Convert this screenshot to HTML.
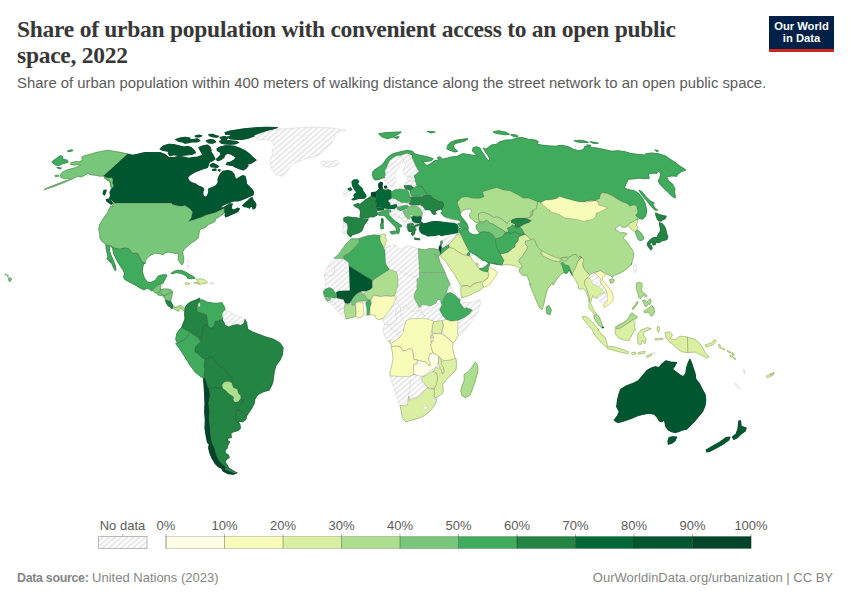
<!DOCTYPE html>
<html><head><meta charset="utf-8">
<style>
html,body{margin:0;padding:0;background:#fff;}
body{width:850px;height:600px;position:relative;overflow:hidden;font-family:"Liberation Sans",sans-serif;}
.abs{position:absolute;white-space:nowrap;}
#title{left:17px;top:16.2px;font-family:"Liberation Serif",serif;font-weight:bold;font-size:23.5px;line-height:26px;color:#373737;letter-spacing:-0.26px;}
#sub{left:17px;top:74px;font-size:14.87px;line-height:18px;color:#5b5b5b;}
#logo{left:769px;top:16px;width:65px;height:33px;background:#002147;border-bottom:3px solid #ce261e;color:#fff;font-weight:bold;font-size:11.2px;line-height:12px;text-align:center;}
#logo div{position:absolute;left:0;width:65px;text-align:center;}
.lg{font-size:13px;color:#5b5b5b;top:518px;line-height:15px;transform:translateX(-50%);}
#src{left:17px;top:570px;font-size:13px;color:#858585;line-height:15px;}
#url{right:17px;top:570px;font-size:13px;color:#858585;line-height:15px;}
#map{position:absolute;left:0;top:0;}
</style></head><body>
<div id="title" class="abs">Share of urban population with convenient access to an open public<br>space, 2022</div>
<div id="sub" class="abs">Share of urban population within 400 meters of walking distance along the street network to an open public space.</div>
<div id="logo" class="abs"><div style="top:4px">Our World</div><div style="top:16px">in Data</div></div>
<svg id="map" width="850" height="600" viewBox="0 0 850 600">
<defs><pattern id="h" width="4" height="4" patternUnits="userSpaceOnUse" patternTransform="rotate(49)"><rect width="4" height="4" fill="#fff"/><line x1="1" y1="0" x2="1" y2="4" stroke="#e5e5e5" stroke-width="1.7"/></pattern></defs>
<g>
<g stroke-width="1.1" stroke-linejoin="round">
<path d="M51.9 161.9L56.2 158.8L60.6 155.6L62.5 156.9L63.1 159.4L66.9 160.0L68.1 161.9L65.0 163.1L61.9 163.8L58.8 165.6L55.6 165.0L53.1 163.1Z" fill="#41ab5d" stroke="#41ab5d"/>
<path d="M56.9 167.5L61.2 168.1L60.0 169.0Z" fill="#41ab5d" stroke="#41ab5d"/>
<path d="M67.5 151.0L71.9 149.8L72.8 150.6L68.8 151.6Z" fill="#41ab5d" stroke="#41ab5d"/>
<path d="M55.0 175.6L58.1 175.0L58.8 176.2L55.6 176.6Z" fill="#78c679" stroke="#78c679"/>
<path d="M127.5 154.0L103.8 175.6L105.0 178.1L107.5 180.0L110.0 181.2L110.6 183.8L111.2 186.9L113.1 187.5L111.2 189.4L110.0 192.5L110.6 195.6L109.4 198.8L111.9 200.0L113.8 201.9L115.0 203.1L113.8 203.1L171.2 203.1L172.5 204.4L176.2 205.6L181.2 206.2L185.0 205.6L188.1 207.5L190.6 209.4L192.5 211.9L191.9 215.0L191.2 218.1L188.5 221.5L191.2 220.6L195.0 219.4L198.8 218.1L201.0 217.5L206.2 215.0L211.2 213.8L216.2 212.2L220.6 210.0L223.8 208.5L224.4 208.8L224.0 212.5L226.2 213.1L225.0 215.0L225.6 216.9L228.1 216.0L231.2 214.4L235.0 213.1L238.1 211.2L239.4 208.8L237.5 208.1L234.4 210.0L231.9 209.4L231.2 206.2L232.5 204.0L230.0 203.8L226.9 205.6L223.8 207.5L221.2 208.1L218.1 208.8L220.0 207.5L222.5 205.6L225.6 204.0L228.8 202.8L231.9 201.5L235.0 200.6L238.1 201.0L241.2 200.0L244.4 198.8L247.5 197.2L250.0 196.2L253.1 195.0L253.5 191.9L251.9 189.4L249.4 186.9L246.5 183.8L246.0 180.0L245.0 176.2L242.5 175.6L239.4 177.5L236.2 179.4L235.0 177.5L233.8 173.8L231.2 171.2L227.5 170.6L223.1 171.2L221.2 173.1L219.4 175.6L218.1 178.8L218.1 182.5L216.2 185.6L212.5 187.5L208.8 188.8L208.8 191.9L207.5 195.6L205.0 197.5L203.1 195.6L202.8 191.9L203.8 189.4L202.5 187.5L198.8 186.2L195.0 183.8L191.2 182.5L188.8 180.6L187.5 177.5L190.6 174.4L195.0 171.9L201.2 169.4L207.5 167.5L209.4 162.0L212.5 160.8L215.0 158.9L213.8 156.4L211.9 153.2L210.0 151.4L207.5 152.6L204.4 153.9L201.2 155.8L197.5 157.0L193.1 157.6L188.8 158.2L183.8 157.0L178.8 156.4L173.8 157.6L168.8 157.6L165.0 154.5L160.0 152.6L146.0 152.5L142.5 153.1L137.5 154.4L132.5 155.2Z" fill="#00562f" stroke="#00562f"/>
<path d="M127.5 154.0L121.2 152.5L115.0 151.5L108.1 150.2L102.5 151.2L96.2 152.5L90.0 154.4L83.8 156.0L81.9 157.5L82.5 160.6L80.0 161.2L76.2 161.5L71.2 162.8L70.6 164.4L74.4 165.0L78.8 164.4L80.6 165.0L77.5 166.9L72.5 168.5L66.9 170.0L62.5 172.2L60.2 175.0L61.2 177.5L65.0 178.8L68.1 178.1L70.0 179.0L66.9 181.2L62.5 183.1L57.5 185.0L52.5 186.9L47.5 188.5L44.4 189.8L46.2 188.5L52.5 186.0L58.8 183.5L65.0 181.0L70.6 179.8L73.8 178.1L77.5 176.2L81.2 176.9L85.0 175.0L88.1 173.1L90.0 174.4L93.1 175.0L96.2 175.2L100.0 176.2L103.8 175.6L106.2 177.5L109.4 178.1L111.9 177.5L113.1 180.0L112.5 183.1L113.8 185.6L113.1 187.5L111.2 186.9L110.6 183.8L110.0 181.2L107.5 180.0L105.0 178.1L103.8 175.6Z" fill="#78c679" stroke="#78c679"/>
<path d="M106.2 199.8L108.1 199.0L110.6 200.6L112.5 203.1L111.2 204.4L108.8 202.5L106.9 201.2Z" fill="#00562f" stroke="#00562f"/>
<path d="M103.8 190.6L106.2 190.0L105.6 192.5L104.4 195.0L103.1 193.8Z" fill="#00562f" stroke="#00562f"/>
<path d="M242.5 205.6L245.0 203.1L248.1 200.6L250.6 198.1L252.5 197.8L253.1 200.6L255.0 202.5L256.0 205.0L255.0 208.1L253.1 209.0L252.5 206.9L250.6 206.2L249.4 208.1L246.9 206.9L244.4 206.6Z" fill="#00562f" stroke="#00562f"/>
<path d="M160.0 148.9L163.8 145.8L168.8 144.2L173.8 144.5L178.8 145.8L183.8 147.0L188.1 146.4L191.2 147.6L193.8 150.1L195.6 152.6L192.5 154.2L188.8 154.8L183.8 155.1L178.8 155.5L173.8 154.8L170.0 155.8L168.1 153.2L169.4 151.4L165.0 150.8L161.9 150.1Z" fill="#00562f" stroke="#00562f"/>
<path d="M198.8 147.6L203.1 145.8L207.5 145.1L210.0 147.0L211.2 150.1L210.6 152.6L208.1 153.9L205.0 155.1L202.5 154.5L201.2 152.0L200.0 149.8Z" fill="#00562f" stroke="#00562f"/>
<path d="M216.9 148.9L220.0 147.0L225.0 145.8L230.0 145.8L235.0 146.4L240.0 148.2L245.0 150.8L249.4 153.9L253.1 157.6L256.2 160.1L253.1 162.0L250.0 163.9L247.5 162.6L248.1 165.8L246.2 168.2L243.1 170.1L240.0 168.9L236.2 167.6L233.1 165.8L230.0 165.1L226.2 164.5L227.5 162.6L230.6 162.0L233.8 160.1L236.2 157.6L233.8 155.8L230.6 153.9L227.5 153.2L225.0 154.8L223.8 157.6L221.2 159.5L218.1 160.8L216.2 159.5L218.8 157.0L221.2 154.5L220.0 152.0L217.5 150.8Z" fill="#00562f" stroke="#00562f"/>
<path d="M175.6 139.5L180.0 138.0L185.0 137.2L190.0 138.0L189.4 139.5L192.5 139.5L197.5 138.9L200.0 140.8L196.9 142.0L192.5 141.8L188.8 142.6L185.0 143.2L182.5 142.0L178.8 141.4Z" fill="#00562f" stroke="#00562f"/>
<path d="M195.0 136.0L198.8 135.1L201.9 135.8L199.4 137.0L196.2 137.0Z" fill="#00562f" stroke="#00562f"/>
<path d="M206.2 140.8L210.0 139.5L213.8 140.1L215.6 142.0L212.5 143.2L208.8 143.0Z" fill="#00562f" stroke="#00562f"/>
<path d="M208.8 134.5L212.5 134.2L215.6 135.5L218.8 136.4L216.2 137.2L212.5 136.8L209.4 135.8Z" fill="#00562f" stroke="#00562f"/>
<path d="M219.4 141.4L223.8 140.1L230.0 140.8L236.2 141.4L238.8 142.6L235.0 143.9L230.0 144.2L225.0 143.9L221.2 143.2Z" fill="#00562f" stroke="#00562f"/>
<path d="M225.0 132.6L230.0 131.0L236.2 130.1L243.8 128.9L252.5 128.0L266.0 127.2L277.5 127.6L272.5 129.2L266.0 130.8L260.0 133.9L255.0 135.8L250.0 137.6L245.0 138.9L240.0 139.5L235.0 139.2L230.0 138.9L227.5 137.0L231.9 135.8L229.4 134.5L225.6 134.2Z" fill="#00562f" stroke="#00562f"/>
<path d="M220.0 137.6L223.8 136.4L228.1 137.6L226.2 139.5L221.9 139.5Z" fill="#00562f" stroke="#00562f"/>
<path d="M210.0 165.1L213.1 163.2L215.6 164.5L218.8 166.4L216.9 167.6L213.8 167.0L211.2 167.0Z" fill="#00562f" stroke="#00562f"/>
<path d="M212.5 169.5L215.6 168.9L216.2 170.1L213.1 170.8Z" fill="#00562f" stroke="#00562f"/>
<path d="M218.1 170.1L220.0 169.5L219.8 171.4Z" fill="#00562f" stroke="#00562f"/>
<path d="M113.8 203.1L112.5 205.0L113.1 206.9L110.6 206.2L108.8 210.0L106.9 213.8L103.8 218.1L101.2 221.9L99.4 225.6L98.8 229.4L99.8 233.8L100.0 238.1L101.9 241.2L104.4 243.1L106.0 245.0L111.2 245.6L115.0 248.1L120.0 249.0L125.0 247.8L128.8 248.5L131.2 251.9L133.1 253.8L135.6 252.8L138.1 253.8L139.4 256.9L141.2 260.0L143.1 262.5L145.0 263.5L145.6 260.0L148.1 256.9L151.9 254.4L155.6 253.1L160.0 253.8L163.1 254.8L165.0 252.8L168.8 251.9L172.5 252.5L175.0 253.8L177.5 252.5L178.5 255.0L178.1 258.8L180.0 262.5L181.9 265.0L183.1 263.1L183.8 259.4L183.1 255.6L182.5 251.9L184.4 248.8L187.5 246.2L191.2 243.1L195.0 240.6L198.1 238.1L198.8 234.4L199.4 230.6L201.0 228.8L205.6 227.5L208.1 224.4L211.9 223.1L215.0 221.2L215.6 218.8L218.8 216.9L222.5 214.4L224.4 212.5L224.0 212.5L224.4 208.8L223.8 208.5L220.6 210.0L216.2 212.2L211.2 213.8L206.2 215.0L201.0 217.5L198.8 218.1L195.0 219.4L191.2 220.6L188.5 221.5L191.2 218.1L191.9 215.0L192.5 211.9L190.6 209.4L188.1 207.5L185.0 205.6L181.2 206.2L176.2 205.6L172.5 204.4L171.2 203.1Z" fill="#78c679" stroke="#78c679"/>
<path d="M106.0 245.0L108.8 245.6L109.8 247.5L109.4 250.6L110.6 254.4L112.5 258.8L114.4 263.1L115.6 266.9L114.4 265.0L116.0 269.4L115.2 270.6L113.5 267.5L111.9 263.8L110.6 259.4L110.6 262.5L108.1 259.4L106.9 258.8L108.1 256.9L106.9 251.9L106.2 248.1Z" fill="#41ab5d" stroke="#41ab5d"/>
<path d="M110.6 246.2L115.0 248.4L120.0 249.2L125.0 248.0L128.8 248.8L131.2 252.1L133.1 254.0L135.6 253.0L138.1 254.0L139.4 257.1L141.2 260.2L143.1 262.8L145.0 263.8L143.8 262.5L143.1 265.6L142.2 269.4L142.8 273.8L144.4 278.1L146.9 281.9L150.0 282.8L153.8 281.2L156.2 279.4L158.1 276.2L162.5 274.8L166.9 275.0L165.6 278.1L163.8 281.2L162.5 283.8L160.6 284.4L158.1 284.8L156.5 285.6L155.0 287.5L153.1 289.4L151.9 291.0L150.0 289.4L147.5 288.1L143.8 289.8L139.4 287.5L134.4 284.4L129.4 281.9L125.0 279.4L123.5 276.9L124.8 273.8L123.1 270.0L120.6 266.2L118.1 262.5L115.6 257.5L113.8 253.8L112.5 247.5Z" fill="#41ab5d" stroke="#41ab5d"/>
<path d="M153.1 289.8L155.0 287.8L156.5 285.9L158.1 285.0L160.6 284.8L160.6 287.5L160.0 289.4L161.2 290.0L159.4 291.9L156.9 293.1L154.4 292.5Z" fill="#78c679" stroke="#78c679"/>
<path d="M156.9 293.5L159.4 292.2L161.9 293.8L162.5 295.2L160.0 295.6L158.1 294.8Z" fill="#78c679" stroke="#78c679"/>
<path d="M160.0 289.8L163.8 289.0L168.1 289.0L171.2 290.0L172.5 291.9L170.0 292.5L167.5 293.8L165.0 295.6L163.1 295.6L161.9 293.8L159.6 292.1L161.2 290.2Z" fill="#78c679" stroke="#78c679"/>
<path d="M163.1 296.0L165.2 295.9L167.8 294.0L170.2 292.8L172.5 292.1L171.9 295.6L171.2 298.8L170.6 301.2L168.1 300.6L165.6 300.0L164.8 298.1Z" fill="#78c679" stroke="#78c679"/>
<path d="M165.6 300.2L168.1 301.0L170.6 301.5L171.9 303.8L173.1 306.2L171.9 308.8L170.0 306.9L168.1 305.6L166.9 303.8L166.0 301.9Z" fill="#238443" stroke="#238443"/>
<path d="M173.1 306.5L175.6 307.5L178.1 306.2L180.6 305.6L183.1 306.9L184.8 308.8L184.4 311.0L182.5 310.0L181.2 308.1L179.4 308.8L178.5 311.2L176.2 310.0L174.0 308.8Z" fill="#addd8e" stroke="#addd8e"/>
<path d="M171.2 273.5L173.8 271.5L177.5 270.2L181.9 270.6L185.6 272.2L189.4 274.4L192.5 276.2L195.0 278.1L191.2 278.8L187.5 278.1L186.9 276.2L183.8 274.4L180.0 273.1L175.6 272.5L173.1 273.8Z" fill="#41ab5d" stroke="#41ab5d"/>
<path d="M185.0 283.1L187.5 282.5L189.8 283.5L188.1 284.8L185.6 284.4Z" fill="#d9f0a3" stroke="#d9f0a3"/>
<path d="M193.8 282.5L196.9 282.2L199.4 283.8L197.5 280.6L196.2 279.4L200.0 278.8L203.8 279.4L206.2 281.2L207.5 282.8L205.0 283.5L202.5 283.1L200.6 284.8L198.1 283.8L195.6 283.5Z" fill="#d9f0a3" stroke="#d9f0a3"/>
<path d="M190.0 310.0L203.3 315.0L215.0 328.3L245.0 328.3L273.3 343.3L271.7 373.3L245.0 413.3L235.0 418.3L221.7 455.0L215.0 446.7L208.7 390.0L205.0 360.0L198.3 340.0Z" fill="#238443" stroke="#238443"/>
<path d="M185.0 308.0L187.5 304.2L190.8 302.0L195.8 300.0L199.7 298.3L200.0 300.8L197.5 303.3L196.3 306.7L197.5 311.7L202.5 313.3L206.7 315.0L207.5 320.8L206.7 325.0L203.0 327.0L202.5 331.7L202.0 336.7L198.3 337.5L194.2 335.0L190.0 331.7L185.8 330.0L181.7 327.5L183.3 323.3L185.0 319.2L184.7 313.3Z" fill="#238443" stroke="#238443"/>
<path d="M199.7 300.8L202.0 299.7L206.7 302.0L212.5 303.0L218.3 303.3L221.7 302.5L224.2 306.7L225.0 310.0L222.5 313.3L224.2 316.7L221.7 319.2L218.3 320.8L215.0 321.3L214.7 325.8L210.8 328.3L208.0 325.8L207.5 320.8L206.7 315.0L202.5 313.3L197.5 311.7L196.7 306.7L198.3 304.2Z" fill="#41ab5d" stroke="#41ab5d"/>
<path d="M203.0 327.0L206.7 325.3L210.8 328.7L214.7 326.2L215.0 321.7L218.7 321.2L222.0 319.5L225.3 325.3L228.7 327.0L232.8 325.3L237.0 324.5L241.2 325.3L243.7 323.7L245.0 319.5L246.7 323.3L247.5 329.2L251.7 331.7L258.3 334.2L265.0 336.7L273.3 339.2L280.0 343.3L283.0 347.5L282.5 354.2L280.0 360.0L275.8 365.8L274.2 371.7L273.3 378.3L271.7 385.0L273.3 380.0L271.7 385.0L269.2 390.0L263.3 391.7L258.3 394.2L255.0 398.3L254.2 403.3L251.7 408.3L248.3 413.3L246.7 415.8L241.7 411.7L236.7 409.7L240.0 405.0L243.3 400.8L240.8 398.3L240.8 395.8L238.3 393.3L237.5 389.2L233.3 387.5L231.7 382.5L231.7 383.3L231.7 377.5L227.5 373.3L224.2 368.3L220.0 365.8L215.0 361.7L212.5 356.7L209.2 357.5L205.0 359.2L201.7 357.5L198.3 354.2L195.0 351.7L194.7 347.5L197.5 344.2L200.8 341.7L202.0 337.0L202.5 331.7Z" fill="#238443" stroke="#238443"/>
<path d="M181.7 327.8L185.8 330.3L190.0 332.0L188.3 335.8L185.0 339.2L180.8 341.7L177.5 343.3L175.8 339.2L176.7 334.2L179.2 330.0Z" fill="#41ab5d" stroke="#41ab5d"/>
<path d="M175.8 343.7L180.8 342.0L185.0 339.5L188.3 336.2L190.0 332.3L194.2 335.3L198.3 337.8L200.8 341.7L197.5 344.5L194.7 347.8L195.0 352.0L198.3 354.5L201.7 357.8L205.0 359.5L204.2 365.0L205.0 370.0L203.7 375.0L204.2 378.3L200.8 376.7L195.0 371.7L190.0 365.0L185.8 358.3L181.7 351.7L178.3 346.7Z" fill="#41ab5d" stroke="#41ab5d"/>
<path d="M205.0 359.5L209.2 357.8L212.5 357.0L215.0 362.0L220.0 366.2L224.2 368.7L227.5 373.7L231.7 377.8L231.7 383.3L228.3 382.5L224.2 381.7L221.7 386.7L222.5 388.3L218.3 388.3L213.3 387.5L208.7 388.3L205.8 385.0L205.0 379.2L204.2 375.0L205.0 370.0L204.2 365.0Z" fill="#238443" stroke="#238443"/>
<path d="M222.0 385.0L224.2 382.0L228.3 381.3L231.7 382.5L233.3 387.5L237.5 389.2L238.3 393.3L240.8 395.8L240.8 398.7L238.3 401.7L235.0 402.5L233.0 400.0L233.3 396.7L229.2 394.2L225.8 390.8L222.5 388.3Z" fill="#addd8e" stroke="#addd8e"/>
<path d="M208.7 388.3L213.3 387.5L218.3 388.3L222.5 388.7L225.8 391.2L229.2 394.5L233.3 397.0L233.0 400.3L235.0 402.8L238.3 402.0L240.8 399.0L243.3 401.2L240.0 405.3L236.7 410.0L235.3 414.5L235.8 419.5L238.3 421.7L240.0 425.0L240.3 428.3L237.5 430.8L233.3 431.7L230.8 433.3L231.3 437.5L227.5 438.3L226.3 440.0L229.7 441.7L227.5 445.8L227.0 448.3L225.0 450.0L225.3 453.3L228.3 455.0L229.2 457.5L226.7 459.2L225.0 461.7L227.5 465.8L228.3 467.5L225.0 466.7L221.7 464.2L218.3 460.0L215.8 455.0L214.2 448.3L211.7 443.3L210.3 436.7L209.7 428.3L208.7 420.0L209.2 411.7L208.0 403.3L209.7 395.8Z" fill="#238443" stroke="#238443"/>
<path d="M225.3 467.0L228.3 467.8L231.7 470.0L235.0 471.7L232.5 472.5L229.2 471.3L226.3 470.0Z" fill="#238443" stroke="#238443"/>
<path d="M236.7 409.7L241.7 411.7L246.7 415.8L245.8 419.2L242.5 421.7L238.3 421.3L235.8 419.2L235.3 414.2Z" fill="#238443" stroke="#238443"/>
<path d="M203.7 378.3L205.8 380.8L207.5 386.7L205.8 385.0L208.7 388.3L209.7 395.8L208.0 403.3L209.2 411.7L208.7 420.0L209.7 428.3L210.3 436.7L211.7 443.3L214.2 448.3L215.8 455.0L218.3 460.0L221.7 464.2L225.0 466.7L224.7 470.0L221.7 468.3L218.3 466.7L215.0 463.3L212.0 458.3L210.0 453.3L208.7 448.3L209.2 444.2L207.5 442.5L206.3 436.7L205.0 428.3L205.3 420.0L204.7 411.7L205.0 403.3L204.7 395.0L204.2 387.5L203.7 380.0Z" fill="#004529" stroke="#004529"/>
<path d="M221.7 468.3L225.0 470.0L229.2 472.0L233.3 473.3L237.0 472.7L233.3 474.3L228.3 473.7L223.3 471.3Z" fill="#004529" stroke="#004529"/>
<path d="M413.1 153.8L414.4 153.8L418.8 155.0L425.0 156.2L430.0 157.5L433.1 158.8L431.2 160.6L427.5 161.2L423.8 161.9L421.2 160.6L423.8 163.1L426.9 165.6L429.4 164.4L432.5 162.5L435.0 160.6L438.8 160.0L437.5 157.5L440.0 156.9L442.5 159.4L447.5 158.1L452.5 156.9L457.5 156.2L462.5 153.8L467.5 154.4L471.0 155.0L471.7 155.0L475.8 155.8L478.3 156.7L475.0 153.3L472.5 150.8L473.3 147.5L476.7 146.7L480.0 148.3L481.7 151.7L484.2 155.0L486.7 159.2L488.3 160.8L490.0 159.2L488.3 155.8L485.8 152.5L483.3 148.3L485.8 149.2L488.3 147.5L491.7 145.0L496.7 144.2L500.0 141.7L505.0 140.3L511.7 139.7L516.7 138.0L521.7 137.5L528.3 139.2L535.0 140.0L538.3 141.7L536.7 144.2L541.7 145.0L548.3 145.8L555.0 146.3L561.7 145.3L568.3 146.7L573.3 149.2L578.3 150.8L583.3 149.7L585.0 146.3L591.7 147.5L598.3 148.3L605.0 149.7L611.7 151.3L618.3 150.8L625.0 151.7L630.0 153.3L636.7 154.2L641.7 154.7L646.7 155.0L645.8 153.7L651.7 153.0L658.3 153.7L665.0 155.8L670.0 159.2L675.0 162.5L679.2 165.8L685.8 170.0L680.8 171.7L677.5 174.2L676.7 176.3L671.7 175.8L666.7 177.0L668.3 180.8L672.5 184.2L675.0 189.2L674.2 191.7L675.3 195.8L675.0 198.0L671.7 195.8L667.5 191.7L663.3 187.5L660.0 184.2L658.3 180.8L660.0 177.5L660.8 173.3L658.3 170.8L656.7 173.3L652.5 173.0L648.3 174.2L649.2 178.3L645.0 178.7L640.0 178.0L635.0 178.7L628.3 179.2L625.8 184.2L624.2 188.3L629.2 189.7L634.2 190.8L638.3 193.3L642.5 198.3L645.0 203.3L646.7 210.0L645.8 215.8L642.5 219.2L639.2 218.3L635.8 215.8L638.0 211.7L636.7 206.7L635.0 205.0L631.7 206.7L627.5 204.2L623.3 201.7L618.3 199.2L613.3 195.8L608.3 193.3L601.7 192.5L600.0 195.0L600.8 199.2L598.3 201.7L591.7 200.0L585.0 200.8L585.0 202.5L578.3 202.0L571.7 200.3L565.0 198.7L559.2 196.7L557.5 198.7L551.7 200.0L545.8 200.3L540.8 202.8L537.5 202.0L533.3 200.3L528.3 198.3L523.3 198.7L518.3 195.3L513.3 192.8L510.0 191.2L503.3 190.3L496.7 187.8L488.3 190.3L482.5 192.0L484.2 197.0L480.0 198.7L473.3 198.7L466.7 197.0L461.7 197.8L457.5 202.0L459.4 208.1L460.6 213.1L460.0 214.0L460.6 215.6L461.9 217.5L464.4 220.6L466.9 224.0L465.0 223.4L462.5 221.5L460.6 222.8L459.4 220.9L455.0 220.0L451.2 219.2L447.5 217.8L443.8 215.9L441.0 213.0L442.8 211.2L441.2 209.6L442.5 208.1L443.8 205.0L442.8 202.2L439.4 201.2L435.0 199.4L431.9 197.5L430.0 195.0L426.9 195.6L426.2 193.8L425.0 190.6L421.2 185.6L421.9 186.9L418.8 185.6L416.2 184.4L415.0 181.0L415.0 178.1L414.4 175.6L416.2 173.8L418.8 171.2L417.5 169.4L415.6 166.2L413.8 161.9L411.9 158.1Z" fill="#41ab5d" stroke="#41ab5d"/>
<path d="M401.2 188.1L404.0 188.1L405.0 189.4L401.9 189.8Z" fill="#41ab5d" stroke="#41ab5d"/>
<path d="M446.9 148.8L448.1 145.0L451.2 141.9L456.2 140.2L462.5 139.4L467.5 139.0L465.0 140.6L460.0 141.9L455.6 143.1L453.1 145.6L454.4 148.8L457.5 151.2L454.4 151.9L450.6 150.6Z" fill="#41ab5d" stroke="#41ab5d"/>
<path d="M455.0 141.7L461.7 139.7L467.5 138.7L465.0 140.8L459.2 142.5L455.0 143.3Z" fill="#41ab5d" stroke="#41ab5d"/>
<path d="M493.3 131.7L498.3 130.8L505.0 132.0L509.2 134.2L505.0 134.7L498.3 133.7L495.0 133.0Z" fill="#41ab5d" stroke="#41ab5d"/>
<path d="M510.8 134.7L515.0 134.7L518.0 136.3L514.2 136.7Z" fill="#41ab5d" stroke="#41ab5d"/>
<path d="M574.2 140.8L580.0 140.3L585.8 141.3L588.3 142.5L583.3 142.5L577.5 142.0Z" fill="#41ab5d" stroke="#41ab5d"/>
<path d="M590.0 141.7L596.0 142.5L598.3 143.3L593.3 143.3Z" fill="#41ab5d" stroke="#41ab5d"/>
<path d="M586.7 145.0L590.8 145.3L590.0 146.7Z" fill="#41ab5d" stroke="#41ab5d"/>
<path d="M655.0 150.0L658.3 150.8L657.0 151.7Z" fill="#41ab5d" stroke="#41ab5d"/>
<path d="M639.2 190.3L641.7 191.7L645.8 196.7L650.0 200.8L654.2 203.3L652.5 204.2L655.0 208.3L657.5 210.3L655.0 210.0L651.7 206.7L648.3 202.5L644.2 197.5L640.8 193.3Z" fill="#41ab5d" stroke="#41ab5d"/>
<path d="M378.8 133.8L386.2 132.5L401.2 132.0L397.5 134.5L392.5 137.0L387.5 138.8L382.5 137.0Z" fill="#41ab5d" stroke="#41ab5d"/>
<path d="M393.8 137.5L398.8 136.5L397.5 138.5Z" fill="#41ab5d" stroke="#41ab5d"/>
<path d="M427.5 131.2L435.0 132.0L431.2 133.0Z" fill="#41ab5d" stroke="#41ab5d"/>
<path d="M372.5 172.5L374.4 170.0L377.5 168.1L381.2 165.6L383.8 163.1L386.2 159.4L389.4 156.2L393.1 153.8L397.5 152.5L402.5 151.2L407.5 150.6L412.5 151.2L414.4 153.8L413.1 153.8L410.6 155.0L407.5 153.5L403.8 154.4L400.6 155.6L396.2 156.2L393.1 158.1L390.0 160.6L388.1 164.4L386.9 167.5L385.0 170.6L385.6 173.8L385.0 177.5L381.9 178.1L378.8 179.4L375.0 180.0L373.1 177.5Z" fill="#41ab5d" stroke="#41ab5d"/>
<path d="M408.5 203.8L410.0 201.9L410.9 199.3L410.0 197.0L413.0 196.4L417.5 196.3L422.0 196.4L423.8 195.0L426.9 195.6L430.0 195.0L431.9 197.5L435.0 199.4L439.4 201.2L442.8 202.2L443.8 205.0L442.5 208.1L440.6 209.0L436.9 210.2L435.0 211.2L431.9 211.2L435.0 212.2L436.2 213.8L433.8 214.4L432.2 213.1L430.6 210.0L427.5 209.4L425.6 209.8L422.8 207.1L420.5 205.4L417.9 205.3L413.8 205.3L410.8 205.3Z" fill="#238443" stroke="#238443"/>
<path d="M378.8 183.8L380.6 182.2L382.5 183.1L381.9 186.2L382.5 188.8L380.0 189.0L378.8 186.9Z" fill="#004529" stroke="#004529"/>
<path d="M384.4 186.2L386.5 186.0L386.9 187.8L385.0 188.1Z" fill="#004529" stroke="#004529"/>
<path d="M353.8 205.0L358.1 203.5L360.0 204.4L363.1 201.9L366.2 199.4L368.8 198.1L371.2 199.4L373.8 201.2L376.2 203.1L378.1 205.0L377.5 207.5L376.2 209.4L376.9 211.9L378.1 213.8L376.2 215.6L373.1 216.9L370.0 216.5L368.1 218.1L365.0 217.5L361.9 218.1L360.0 216.9L360.6 212.5L360.0 209.4L357.5 207.5L355.0 206.5Z" fill="#238443" stroke="#238443"/>
<path d="M381.5 219.4L382.8 219.0L383.0 223.1L381.8 223.5Z" fill="#238443" stroke="#238443"/>
<path d="M343.8 218.1L347.5 216.9L352.5 217.5L357.5 218.1L361.9 218.8L365.6 219.0L368.1 219.8L366.2 221.9L364.4 224.4L363.1 227.5L361.9 230.6L359.4 232.5L355.6 233.8L351.9 235.0L350.6 236.9L348.1 234.4L346.9 231.2L347.5 227.5L346.9 223.8L344.0 221.2Z" fill="#238443" stroke="#238443"/>
<path d="M351.9 181.9L353.8 180.0L356.9 179.8L358.8 181.2L357.5 183.8L359.4 186.2L361.9 188.1L363.1 191.2L365.0 193.8L366.2 196.2L364.4 198.1L360.6 198.5L357.5 198.8L353.8 200.0L351.9 199.4L355.0 197.5L353.8 195.6L355.0 193.8L356.9 192.5L355.6 190.6L353.8 188.1L352.5 185.6L352.2 183.1Z" fill="#006837" stroke="#006837"/>
<path d="M348.1 188.8L350.6 187.8L351.9 189.8L349.4 190.6Z" fill="#006837" stroke="#006837"/>
<path d="M404.0 186.1L407.0 185.4L411.5 186.1L413.8 187.6L411.9 189.9L409.3 190.6L407.0 189.4L404.8 188.4Z" fill="#238443" stroke="#238443"/>
<path d="M410.0 190.6L413.0 188.0L416.8 186.1L420.5 186.5L423.5 189.1L425.0 191.8L427.3 193.3L424.3 194.8L420.5 196.3L416.0 195.9L411.5 196.3L410.0 193.6Z" fill="#41ab5d" stroke="#41ab5d"/>
<path d="M406.6 209.0L408.5 206.8L411.5 206.0L416.0 206.0L419.0 207.5L420.9 209.8L422.4 212.8L422.0 215.8L417.5 216.1L413.0 215.8L410.0 214.3L407.8 212.0Z" fill="#78c679" stroke="#78c679"/>
<path d="M411.1 216.9L413.8 216.1L417.5 216.5L421.3 216.1L421.6 218.4L420.9 220.6L421.6 222.5L417.5 223.3L413.8 222.5L411.9 220.3Z" fill="#006837" stroke="#006837"/>
<path d="M391.3 192.1L395.0 189.9L400.3 189.1L407.0 189.5L408.9 192.5L410.0 196.3L410.8 199.3L409.6 201.9L407.0 203.0L401.0 202.6L398.0 200.9L395.0 199.1L391.3 198.4L390.9 194.8Z" fill="#41ab5d" stroke="#41ab5d"/>
<path d="M396.9 207.5L400.3 206.4L404.0 205.6L407.8 205.3L408.5 206.4L407.0 208.3L404.0 210.1L400.3 210.9L397.6 209.8Z" fill="#41ab5d" stroke="#41ab5d"/>
<path d="M376.3 191.8L378.9 189.5L382.3 189.1L384.9 190.3L388.3 189.7L390.9 191.0L391.3 194.8L391.4 198.4L389.0 200.0L387.9 201.1L389.4 202.6L390.5 204.5L389.8 206.0L383.8 207.4L380.0 207.5L376.3 207.5L376.6 203.8L375.5 201.1L376.3 197.4Z" fill="#006837" stroke="#006837"/>
<path d="M371.4 192.9L376.3 192.1L376.3 197.4L374.0 197.0L371.4 196.3Z" fill="#004529" stroke="#004529"/>
<path d="M369.1 197.4L371.4 196.4L374.8 197.6L376.3 197.9L375.5 201.1L371.8 201.1Z" fill="#238443" stroke="#238443"/>
<path d="M376.3 207.9L383.8 207.1L384.1 210.1L377.4 210.9Z" fill="#006837" stroke="#006837"/>
<path d="M383.4 207.1L389.8 205.6L396.5 204.1L397.3 206.8L394.3 209.0L387.5 209.0L383.8 208.3Z" fill="#006837" stroke="#006837"/>
<path d="M377.4 212.8L381.1 211.3L385.3 209.8L387.5 209.4L390.9 210.1L391.3 211.6L389.0 213.1L389.8 215.8L392.4 218.8L395.8 221.8L399.1 224.0L401.8 225.9L400.6 227.0L398.4 226.6L399.5 230.0L398.8 233.0L396.9 233.8L396.5 230.0L395.8 227.0L392.8 224.0L389.8 221.0L386.8 218.0L384.9 215.8L383.0 215.0L380.0 215.4L378.1 214.6Z" fill="#41ab5d" stroke="#41ab5d"/>
<path d="M390.0 231.9L395.6 231.0L395.0 233.8L391.9 234.0Z" fill="#41ab5d" stroke="#41ab5d"/>
<path d="M380.4 224.0L383.0 223.6L383.4 228.5L381.1 228.9Z" fill="#41ab5d" stroke="#41ab5d"/>
<path d="M381.4 219.1L382.6 218.8L383.0 222.1L381.7 222.5Z" fill="#238443" stroke="#238443"/>
<path d="M402.9 210.9L405.9 210.1L407.8 212.4L410.0 214.6L410.8 217.3L409.6 219.1L407.4 218.8L405.5 216.5L404.0 213.9Z" fill="#78c679" stroke="#78c679"/>
<path d="M410.0 223.3L413.0 222.9L413.8 225.1L411.1 225.9Z" fill="#238443" stroke="#238443"/>
<path d="M407.4 224.0L409.6 223.6L410.8 226.3L410.4 230.0L409.3 231.5L408.1 230.0L407.0 227.0Z" fill="#238443" stroke="#238443"/>
<path d="M410.8 226.3L413.8 225.5L417.5 224.0L422.0 223.3L420.5 225.5L417.5 225.9L415.3 227.0L416.0 230.0L415.0 230.6L414.4 233.8L412.5 235.6L411.5 233.5L412.8 232.2L411.0 231.5L409.3 231.5L410.4 230.0Z" fill="#238443" stroke="#238443"/>
<path d="M414.4 238.1L419.4 238.8L419.8 239.8L415.0 239.4Z" fill="#238443" stroke="#238443"/>
<path d="M419.4 228.1L420.6 225.6L423.8 223.8L427.5 223.1L431.2 221.9L435.0 221.5L440.0 221.9L445.0 222.5L448.8 223.1L453.1 223.1L456.9 224.4L458.1 226.9L457.5 230.0L458.1 232.5L455.0 233.1L451.2 233.8L447.5 234.4L443.8 235.0L441.2 235.6L439.4 234.4L436.9 235.0L433.8 235.6L430.6 235.6L427.5 236.0L425.0 234.4L421.9 233.5L420.0 231.2Z" fill="#006837" stroke="#006837"/>
<path d="M419.4 223.1L421.9 222.5L423.1 223.8L420.6 224.8Z" fill="#006837" stroke="#006837"/>
<path d="M458.1 223.4L460.6 222.8L462.5 221.5L465.0 223.4L466.9 224.0L468.1 226.9L467.8 230.0L465.6 228.1L463.1 228.8L461.2 227.5L459.4 225.6Z" fill="#41ab5d" stroke="#41ab5d"/>
<path d="M457.5 201.7L461.7 197.5L466.7 196.7L473.3 198.3L480.0 198.3L484.2 196.7L482.5 191.7L488.3 190.0L496.7 187.5L503.3 190.0L510.0 190.8L513.3 192.5L518.3 195.0L523.3 198.3L528.3 198.0L533.3 200.0L537.5 201.7L536.7 208.3L533.3 210.8L532.5 215.0L530.0 217.5L516.0 218.8L512.5 219.4L510.0 222.5L507.5 223.8L505.0 221.9L501.2 218.8L497.5 216.9L493.8 217.5L491.2 215.6L487.5 213.8L483.1 212.2L478.8 213.8L478.5 217.5L479.4 221.2L477.5 223.1L475.0 221.9L473.1 220.0L470.0 217.5L469.4 214.4L471.2 212.5L471.9 210.0L470.0 208.8L466.2 209.0L462.5 210.6L460.6 213.1L459.4 208.1L457.5 204.4L457.5 200.6Z" fill="#addd8e" stroke="#addd8e"/>
<path d="M487.5 228.8L505.0 231.2L525.0 233.1L526.2 235.0L518.8 242.5L505.0 255.0L502.5 262.5L487.5 262.5Z" fill="#41ab5d" stroke="#41ab5d"/>
<path d="M478.5 213.8L483.1 212.2L487.5 213.8L491.2 215.6L493.8 217.5L497.5 216.9L501.2 218.8L505.0 221.9L507.5 223.8L507.5 222.5L510.0 220.6L511.9 220.0L511.2 222.2L513.1 223.1L515.6 224.4L514.4 226.2L512.5 225.0L510.6 226.9L507.5 228.1L508.8 231.9L505.0 231.9L501.9 229.4L497.5 226.9L493.8 224.4L490.0 223.1L486.2 219.8L485.0 221.2L482.5 221.9L479.4 221.5L478.5 217.5Z" fill="#addd8e" stroke="#addd8e"/>
<path d="M476.2 225.0L478.1 224.4L479.4 221.9L482.5 222.2L485.0 221.5L486.5 220.0L490.0 223.1L493.8 224.4L497.5 226.9L501.9 229.4L505.0 231.9L504.4 234.0L502.5 236.5L498.8 238.1L495.6 239.0L492.5 235.6L490.0 233.1L488.8 232.2L483.8 231.5L480.0 232.2L478.1 231.2L476.2 228.1Z" fill="#78c679" stroke="#78c679"/>
<path d="M511.9 220.0L516.9 218.1L522.5 218.5L527.5 219.0L531.5 220.6L529.4 222.5L525.6 223.8L523.1 225.0L520.0 226.9L516.9 227.5L514.4 226.2L515.6 224.4L513.1 223.1L511.2 222.2Z" fill="#238443" stroke="#238443"/>
<path d="M507.5 228.1L510.6 226.9L512.5 225.0L514.4 226.2L516.9 227.8L520.0 227.1L521.9 228.8L524.4 233.1L521.2 234.4L518.1 233.8L515.6 231.9L513.1 232.5L510.6 233.8L508.8 231.9Z" fill="#41ab5d" stroke="#41ab5d"/>
<path d="M495.6 239.4L498.8 238.1L502.5 236.9L505.0 233.8L508.8 232.2L510.6 234.0L513.1 232.8L515.6 232.1L518.1 234.0L521.2 234.6L524.4 233.4L525.6 234.0L521.9 235.6L518.8 236.9L518.1 240.6L515.6 243.1L515.0 246.9L511.9 248.8L508.8 251.9L504.4 253.1L500.0 253.8L498.1 250.0L496.2 246.2L495.6 242.5Z" fill="#41ab5d" stroke="#41ab5d"/>
<path d="M518.8 236.9L521.9 235.6L525.6 234.4L528.1 236.9L531.2 239.4L528.8 240.6L525.6 241.2L525.0 243.8L527.5 246.2L526.9 249.4L524.4 252.5L522.5 256.2L519.4 259.4L518.8 261.2L521.2 264.4L522.5 266.9L519.4 268.1L515.0 265.6L511.2 265.0L506.2 264.4L501.9 265.0L503.8 260.6L500.2 254.0L504.4 253.4L508.8 252.1L511.9 249.0L515.0 247.1L515.6 243.4L518.1 240.9Z" fill="#d9f0a3" stroke="#d9f0a3"/>
<path d="M458.1 229.4L460.0 228.1L462.5 230.0L465.6 228.5L467.8 230.2L469.4 233.1L472.5 234.6L476.2 235.0L478.8 234.0L480.0 232.5L483.8 231.8L488.8 232.5L492.5 234.0L495.6 239.0L495.6 242.5L496.2 246.2L498.1 250.0L500.2 254.0L503.8 260.6L501.9 265.0L497.5 264.4L493.8 262.5L497.5 264.4L492.5 263.5L489.0 262.8L486.2 261.2L482.5 260.0L477.5 256.2L473.8 253.8L471.2 252.5L469.4 251.9L468.1 249.4L465.6 245.0L463.1 240.0L461.2 235.0Z" fill="#41ab5d" stroke="#41ab5d"/>
<path d="M440.6 241.9L442.2 240.6L442.5 243.1L441.2 245.0Z" fill="#41ab5d" stroke="#41ab5d"/>
<path d="M439.4 246.9L440.6 245.0L441.5 248.8L441.0 252.5L440.2 254.8L439.0 250.6Z" fill="#004529" stroke="#004529"/>
<path d="M440.6 254.4L441.2 250.0L441.5 248.5L443.1 248.1L446.9 245.6L448.8 244.8L449.4 247.2L446.2 249.8L443.1 252.5Z" fill="#41ab5d" stroke="#41ab5d"/>
<path d="M448.8 244.4L451.9 241.2L455.0 237.5L456.9 234.4L461.2 235.0L463.1 240.0L465.6 245.0L468.1 249.4L469.4 251.9L466.9 253.8L466.2 255.6L462.5 254.4L458.1 251.9L453.8 248.8L449.4 247.2Z" fill="#d9f0a3" stroke="#d9f0a3"/>
<path d="M466.9 253.8L468.8 252.5L470.0 255.0L468.1 256.0Z" fill="#41ab5d" stroke="#41ab5d"/>
<path d="M440.0 255.6L443.1 252.5L446.2 250.0L449.4 247.5L453.8 248.8L458.1 251.9L462.5 254.4L466.2 255.6L468.1 256.0L470.0 256.2L471.9 259.4L475.0 263.1L477.5 266.2L480.0 269.4L483.8 271.2L488.1 271.9L488.8 275.0L487.5 278.1L483.8 280.6L480.0 281.9L475.0 283.1L471.9 285.0L470.6 286.9L467.5 285.6L463.8 285.6L461.2 286.2L460.0 283.8L457.5 280.0L455.0 275.0L451.2 270.0L448.1 265.0L444.4 260.0L441.9 257.5Z" fill="#d9f0a3" stroke="#d9f0a3"/>
<path d="M476.5 263.5L477.8 263.1L478.1 265.6L476.9 266.2Z" fill="#d9f0a3" stroke="#d9f0a3"/>
<path d="M479.4 268.8L483.1 268.1L486.2 266.2L488.1 263.8L489.4 263.1L489.0 266.9L488.1 271.5L484.0 271.2L480.6 270.0Z" fill="#41ab5d" stroke="#41ab5d"/>
<path d="M488.1 266.2L489.4 266.9L492.5 268.8L496.2 271.2L497.5 272.5L495.6 276.2L493.1 280.0L490.0 283.8L486.9 286.2L483.8 287.2L481.9 283.1L484.0 280.9L487.8 278.4L489.0 275.0L488.1 271.9L489.0 269.4Z" fill="#f7fcb9" stroke="#f7fcb9"/>
<path d="M461.2 286.5L463.8 285.9L467.5 285.9L470.6 287.1L472.2 285.2L475.0 283.4L480.0 282.1L481.9 283.1L483.5 286.9L480.0 290.0L475.0 292.5L470.0 295.0L465.0 296.9L461.9 297.5L461.0 293.8L460.6 290.0Z" fill="#d9f0a3" stroke="#d9f0a3"/>
<path d="M540.8 202.5L598.1 201.9L595.0 200.0L599.4 198.8L600.6 194.4L602.5 192.5L607.5 193.8L612.5 196.2L617.5 199.4L621.2 201.9L626.2 203.1L630.0 206.2L633.1 205.0L636.2 205.6L637.2 209.4L637.8 213.1L635.2 215.0L636.9 216.9L638.1 219.6L635.6 220.0L633.1 221.9L630.0 223.1L628.1 225.6L624.4 227.5L621.9 226.9L620.0 224.8L616.9 226.9L614.8 229.4L618.1 231.2L620.6 233.1L623.8 232.5L626.9 233.8L625.0 235.6L622.8 238.1L625.6 240.6L628.1 243.8L630.6 247.5L633.1 251.2L633.8 255.0L632.5 260.0L631.2 265.0L631.9 263.1L628.8 266.9L625.0 270.0L621.2 272.5L616.9 274.4L613.1 275.6L612.5 277.5L610.6 275.6L607.5 274.4L605.6 273.8L602.5 271.9L600.6 270.6L597.5 271.9L594.4 272.5L591.9 273.8L590.0 275.0L587.5 272.5L585.0 270.0L583.1 266.9L582.5 263.1L583.8 260.0L581.9 257.5L579.4 256.2L581.9 257.5L579.4 259.4L576.2 254.4L572.5 255.0L570.0 256.9L565.0 257.2L561.9 258.1L557.5 258.1L552.5 256.2L547.5 253.8L543.1 251.5L541.2 250.6L538.1 247.5L536.2 244.4L535.0 240.6L533.1 238.8L531.2 239.6L528.1 236.9L525.6 234.4L524.4 233.4L521.9 228.8L520.0 227.1L523.1 225.0L525.6 223.8L529.4 222.5L531.5 220.6L527.5 219.0L528.8 217.5L531.2 215.6L530.0 212.5L533.1 210.0L530.0 217.5L532.5 215.0L533.3 210.8L536.7 208.3L537.5 201.7Z" fill="#addd8e" stroke="#addd8e"/>
<path d="M540.8 202.5L545.8 200.0L551.7 199.7L557.5 198.3L559.2 196.3L565.0 198.3L571.7 200.0L578.3 201.7L585.0 202.0L591.7 201.3L596.0 200.3L590.0 201.0L595.0 200.2L598.1 201.9L598.8 205.0L602.5 206.0L607.5 208.1L603.8 210.0L600.0 211.9L596.2 213.1L595.6 216.9L592.5 219.4L590.0 220.0L590.0 220.0L583.8 221.2L577.5 219.4L571.2 218.8L565.0 218.1L560.0 215.0L555.0 213.1L550.0 211.9L549.4 210.0L550.0 210.8L545.0 206.7Z" fill="#f7fcb9" stroke="#f7fcb9"/>
<path d="M609.4 280.0L611.9 278.8L614.4 280.0L613.1 282.5L610.6 283.1Z" fill="#addd8e" stroke="#addd8e"/>
<path d="M628.1 225.6L630.0 223.1L633.1 221.9L635.6 220.0L638.1 219.6L637.2 222.5L636.2 225.0L638.1 227.5L636.9 230.0L635.0 231.2L632.5 230.6L630.6 228.1Z" fill="#d9f0a3" stroke="#d9f0a3"/>
<path d="M635.2 231.9L637.2 230.2L640.0 231.9L642.5 235.0L643.8 238.1L642.5 240.0L640.0 240.6L638.1 239.4L636.9 236.2Z" fill="#78c679" stroke="#78c679"/>
<path d="M655.6 213.1L658.8 214.4L662.5 215.6L666.2 216.2L665.0 218.8L662.5 219.8L660.6 221.2L658.5 220.6L656.9 218.1L656.0 215.6Z" fill="#238443" stroke="#238443"/>
<path d="M659.4 222.8L661.9 223.5L663.8 225.6L665.6 228.8L666.5 233.1L667.8 236.9L666.9 239.4L664.4 240.2L661.2 241.0L659.4 242.5L657.5 242.2L655.0 243.1L653.1 241.9L651.2 242.5L649.4 243.8L647.5 243.1L650.0 240.0L652.5 238.1L655.0 237.5L657.5 237.2L658.1 234.4L660.0 232.5L660.6 228.8L659.8 225.6Z" fill="#238443" stroke="#238443"/>
<path d="M647.2 243.8L649.4 244.4L651.2 245.6L652.2 248.1L651.0 249.8L649.4 247.8L647.8 246.0Z" fill="#238443" stroke="#238443"/>
<path d="M652.5 243.1L655.6 243.1L655.0 244.8L653.1 245.0Z" fill="#238443" stroke="#238443"/>
<path d="M525.6 241.2L528.8 240.6L531.2 239.6L533.1 238.8L535.0 240.6L536.2 244.4L538.1 247.5L541.2 250.6L540.6 253.1L542.5 255.6L548.8 258.8L555.0 261.2L559.4 261.9L561.2 260.0L560.6 258.1L565.0 257.2L568.1 258.1L570.0 256.9L572.5 255.0L576.2 254.4L578.1 256.9L579.4 259.4L577.5 262.5L576.2 266.2L575.0 269.0L572.8 272.5L572.5 275.6L571.0 272.5L569.4 269.4L567.5 268.1L565.0 268.8L563.8 272.5L560.6 274.4L557.5 278.1L555.0 281.9L553.1 285.0L552.5 282.5L547.5 288.8L545.5 296.2L543.8 303.8L542.0 309.5L539.5 307.5L536.2 300.0L532.5 291.2L529.5 283.8L531.2 285.0L528.8 280.0L526.9 275.0L523.1 275.6L520.0 272.5L519.0 270.0L522.5 267.1L521.2 264.6L518.8 261.5L519.4 259.6L522.5 256.5L524.4 252.8L526.9 249.6L527.5 246.5L525.0 244.0Z" fill="#addd8e" stroke="#addd8e"/>
<path d="M541.0 253.1L543.1 251.5L547.5 253.8L552.5 256.2L557.5 258.1L560.0 258.8L559.8 261.5L555.0 261.0L548.8 258.8L543.1 256.0Z" fill="#d9f0a3" stroke="#d9f0a3"/>
<path d="M561.9 258.1L565.0 257.2L568.1 258.5L567.2 260.6L563.8 261.0L561.5 260.2Z" fill="#addd8e" stroke="#addd8e"/>
<path d="M560.6 263.1L563.1 262.2L565.6 265.0L568.8 265.6L570.0 268.1L571.2 271.2L572.5 275.6L570.6 272.5L569.0 269.8L566.9 273.1L564.8 273.1L563.1 270.0L562.2 266.2Z" fill="#41ab5d" stroke="#41ab5d"/>
<path d="M546.2 307.5L548.8 305.5L551.2 310.0L550.0 314.5L547.0 313.8Z" fill="#78c679" stroke="#78c679"/>
<path d="M576.2 266.2L577.5 262.5L579.4 259.6L581.9 257.5L579.4 256.5L581.9 257.8L583.8 260.2L582.5 263.4L583.1 267.1L585.0 270.2L587.5 272.8L590.0 275.2L587.5 277.5L585.0 280.0L584.4 283.8L586.2 287.2L587.5 291.2L588.8 295.0L589.8 298.8L589.0 301.5L588.1 297.5L586.9 293.8L585.2 290.0L583.1 288.1L580.6 289.4L578.8 288.8L578.1 285.0L576.2 281.2L574.4 278.1L572.5 275.0L572.8 272.5L575.0 269.0Z" fill="#d9f0a3" stroke="#d9f0a3"/>
<path d="M585.0 280.0L587.5 277.8L590.0 278.8L591.9 281.2L593.1 284.4L595.6 285.0L598.8 286.2L601.9 288.8L603.8 291.9L602.5 293.8L599.4 294.4L597.5 296.2L596.9 298.1L594.4 297.5L593.1 295.6L591.9 298.1L591.2 300.6L590.6 303.1L591.9 306.2L593.1 309.4L595.0 311.9L596.9 314.4L595.0 315.0L593.1 312.5L590.6 310.0L588.8 307.5L589.0 303.1L589.8 299.0L588.8 295.2L587.5 291.5L586.2 287.2L584.4 284.0Z" fill="#d9f0a3" stroke="#d9f0a3"/>
<path d="M594.4 272.5L597.5 271.9L600.6 270.6L602.5 272.1L605.6 274.0L604.4 276.2L602.2 278.1L602.8 280.6L605.0 283.1L607.5 286.2L610.0 289.4L612.2 292.5L613.1 296.2L613.1 300.0L611.2 302.5L608.8 304.4L606.2 306.2L604.4 307.5L603.5 305.0L605.6 303.1L607.5 301.2L606.9 298.1L607.2 293.8L606.5 290.9L604.6 287.8L602.1 284.6L600.2 282.1L601.5 280.2L599.6 277.8L597.1 275.2Z" fill="#f7fcb9" stroke="#f7fcb9"/>
<path d="M593.8 315.6L595.6 314.8L598.1 315.6L600.0 318.8L601.2 322.5L602.5 325.6L602.8 327.5L600.6 326.5L598.1 324.4L595.6 320.6L594.4 318.1Z" fill="#addd8e" stroke="#addd8e"/>
<path d="M602.2 327.0L603.2 327.0L603.2 327.8L602.2 327.8Z" fill="#004529" stroke="#004529"/>
<path d="M582.2 316.9L585.0 316.2L588.1 318.1L591.9 321.9L595.6 326.2L598.8 330.0L597.5 330.0L605.0 337.5L607.5 345.0L606.2 347.0L600.0 341.2L593.8 333.8L592.5 330.0L590.0 326.9L586.2 322.5L583.5 319.4Z" fill="#d9f0a3" stroke="#d9f0a3"/>
<path d="M615.6 326.9L618.1 325.6L621.9 323.5L625.6 321.2L628.1 318.8L630.0 315.0L631.9 312.8L634.4 315.0L637.5 316.9L635.6 318.8L633.1 319.4L631.2 321.2L628.8 322.5L625.6 324.4L622.5 326.9L619.4 328.8L616.5 328.8Z" fill="#addd8e" stroke="#addd8e"/>
<path d="M616.5 328.8L619.4 328.8L622.5 327.1L625.6 324.6L628.8 322.8L631.2 321.5L633.1 319.6L635.0 322.5L634.4 326.2L635.6 330.0L634.5 330.0L631.2 336.2L628.8 340.5L623.8 340.0L618.8 338.0L615.5 333.8L615.0 328.8Z" fill="#d9f0a3" stroke="#d9f0a3"/>
<path d="M636.9 283.1L639.4 282.2L641.9 283.5L642.2 286.2L641.2 289.4L642.5 292.5L645.0 293.8L646.9 295.6L645.6 296.9L643.8 295.6L641.9 296.2L640.6 298.8L638.8 296.9L638.1 293.8L636.9 290.6L636.2 286.9Z" fill="#addd8e" stroke="#addd8e"/>
<path d="M642.5 300.6L645.0 300.0L646.2 302.5L648.1 301.2L650.0 298.8L651.2 301.2L650.0 304.4L648.1 303.8L646.2 306.9L644.8 305.6L643.8 303.1Z" fill="#addd8e" stroke="#addd8e"/>
<path d="M643.8 311.2L646.9 309.4L650.0 307.5L651.9 305.6L653.8 308.1L654.4 311.9L653.1 315.0L651.2 316.2L650.0 313.8L648.1 311.9L645.0 312.8Z" fill="#addd8e" stroke="#addd8e"/>
<path d="M632.2 308.8L635.0 305.0L637.5 301.5L638.1 302.5L635.6 306.2L633.1 309.4Z" fill="#addd8e" stroke="#addd8e"/>
<path d="M638.0 333.8L641.2 330.0L647.5 327.5L651.2 328.8L645.0 331.2L643.0 335.0L646.2 338.8L645.0 343.8L642.5 340.0L640.5 344.5L638.0 343.8L637.5 338.8Z" fill="#d9f0a3" stroke="#d9f0a3"/>
<path d="M614.2 420.0L617.5 415.8L619.2 411.7L616.7 406.7L617.5 400.0L619.2 393.3L620.8 389.2L626.7 385.8L633.3 383.3L638.3 380.8L642.5 375.8L646.7 370.8L650.8 368.3L655.0 366.7L659.2 367.5L661.7 364.2L665.8 360.8L670.8 362.0L676.7 362.5L674.2 366.7L672.5 369.2L675.8 371.7L680.0 375.0L683.3 376.7L685.8 373.3L686.7 367.5L688.3 362.5L690.0 359.2L691.7 363.3L693.3 368.3L695.0 373.3L695.8 379.2L699.2 383.3L701.7 388.3L705.0 394.2L705.8 400.0L705.0 405.8L702.5 411.7L698.3 416.7L694.2 421.7L690.0 425.8L686.7 429.2L682.5 430.0L678.3 431.7L675.0 432.5L671.7 431.7L668.3 430.0L665.8 426.7L665.0 422.5L664.2 420.0L661.7 421.7L659.2 420.8L657.5 417.5L654.2 414.2L649.2 413.3L643.3 414.2L637.5 415.8L631.7 418.3L626.7 420.0L621.7 421.7L617.5 422.5Z" fill="#00562f" stroke="#00562f"/>
<path d="M669.2 437.5L672.5 436.7L676.7 437.0L675.0 440.8L671.7 443.3L668.3 444.2L668.0 440.8Z" fill="#00562f" stroke="#00562f"/>
<path d="M738.8 421.2L740.5 420.5L741.2 426.2L746.2 428.0L745.0 431.2L741.2 433.8L737.5 437.5L733.8 439.5L732.5 437.0L736.2 433.8L738.0 428.8Z" fill="#00562f" stroke="#00562f"/>
<path d="M706.2 450.0L712.5 446.2L720.0 442.0L726.2 437.5L730.0 437.0L728.8 440.0L722.5 444.5L716.2 448.0L710.0 451.2L707.0 452.0Z" fill="#00562f" stroke="#00562f"/>
<path d="M607.5 346.2L615.0 347.0L622.5 349.5L628.8 352.0L627.5 353.8L620.0 352.0L612.5 350.0L607.5 348.8Z" fill="#d9f0a3" stroke="#d9f0a3"/>
<path d="M631.2 353.0L635.0 352.0L636.2 353.8L632.5 354.5Z" fill="#d9f0a3" stroke="#d9f0a3"/>
<path d="M638.0 352.5L645.0 351.2L644.5 353.2L638.8 354.2Z" fill="#d9f0a3" stroke="#d9f0a3"/>
<path d="M646.2 356.2L651.2 353.8L652.0 355.0L647.5 357.5Z" fill="#d9f0a3" stroke="#d9f0a3"/>
<path d="M657.5 326.2L659.5 327.5L658.8 332.5L657.0 330.0Z" fill="#d9f0a3" stroke="#d9f0a3"/>
<path d="M655.0 338.8L662.5 338.0L663.0 339.5L655.5 340.0Z" fill="#d9f0a3" stroke="#d9f0a3"/>
<path d="M665.0 332.5L670.0 332.0L672.5 335.0L670.0 338.8L675.0 340.0L680.0 336.2L687.5 337.0L688.0 352.5L682.5 352.0L677.5 348.8L673.8 345.0L668.8 341.2L666.2 337.5Z" fill="#d9f0a3" stroke="#d9f0a3"/>
<path d="M687.5 337.0L695.0 339.5L700.0 343.8L702.5 347.5L705.0 352.5L708.8 357.0L707.0 358.0L701.2 355.0L695.0 352.0L688.0 352.5Z" fill="#d9f0a3" stroke="#d9f0a3"/>
<path d="M705.0 345.0L711.2 343.0L715.0 339.5L716.2 341.2L712.5 345.0L706.2 347.0Z" fill="#d9f0a3" stroke="#d9f0a3"/>
<path d="M766.2 376.2L773.8 373.0L773.0 375.0L767.5 378.0Z" fill="#d9f0a3" stroke="#d9f0a3"/>
<path d="M9.0 277.6L11.6 279.0L10.0 281.6L8.6 280.0Z" fill="#78c679" stroke="#78c679"/>
<path d="M7.2 275.2L8.2 275.6L7.8 276.4Z" fill="#78c679" stroke="#78c679"/>
<path d="M5.2 274.0L6.2 274.4L5.8 275.0Z" fill="#78c679" stroke="#78c679"/>
<path d="M718.5 344.4L719.8 344.7L721.5 348.2L720.3 348.8L718.7 346.5Z" fill="#d9f0a3" stroke="#d9f0a3"/>
<path d="M722.6 348.2L724.7 349.3L724.4 350.0L722.6 349.1Z" fill="#d9f0a3" stroke="#d9f0a3"/>
<path d="M727.4 350.4L730.9 352.3L730.4 353.2L727.4 351.4Z" fill="#d9f0a3" stroke="#d9f0a3"/>
<path d="M731.8 352.6L733.5 353.5L734.1 355.6L732.8 355.3Z" fill="#d9f0a3" stroke="#d9f0a3"/>
<path d="M730.0 355.3L732.6 356.4L732.3 357.4L730.0 356.4Z" fill="#d9f0a3" stroke="#d9f0a3"/>
<path d="M733.5 357.4L735.6 358.5L735.3 359.5L733.5 358.5Z" fill="#d9f0a3" stroke="#d9f0a3"/>
<path d="M770.2 373.8L773.8 372.6L773.4 374.0L770.6 375.1Z" fill="#d9f0a3" stroke="#d9f0a3"/>
<path d="M334.2 258.5L339.2 253.8L341.8 250.0L346.2 243.8L351.2 238.8L358.8 238.8L359.5 242.0L349.2 253.1L344.2 255.6L343.6 258.8Z" fill="#78c679" stroke="#78c679"/>
<path d="M343.6 258.8L344.2 255.6L349.2 253.1L359.5 242.0L358.8 238.8L366.2 236.2L373.8 235.0L380.0 235.5L381.2 241.2L383.0 246.2L385.0 250.5L385.5 262.5L386.5 265.0L389.5 269.4L372.4 280.6L349.0 266.0L348.6 262.5Z" fill="#41ab5d" stroke="#41ab5d"/>
<path d="M380.6 235.0L383.1 233.8L385.6 234.8L385.0 237.5L386.9 240.0L385.6 243.1L384.4 247.5L382.5 245.0L380.6 241.9L380.0 238.1Z" fill="#d9f0a3" stroke="#d9f0a3"/>
<path d="M349.0 266.0L372.4 280.6L372.4 287.5L370.5 289.4L366.1 291.2L361.8 291.2L358.0 293.1L354.2 296.2L351.8 300.0L349.9 303.1L347.4 303.8L344.9 303.1L343.6 299.4L339.9 298.8L336.8 298.1L336.1 292.5L338.6 291.0L349.9 290.6Z" fill="#00562f" stroke="#00562f"/>
<path d="M323.6 291.9L325.5 288.8L329.2 287.5L332.4 288.8L334.9 291.9L336.1 294.4L336.5 298.1L333.0 298.1L330.5 297.5L327.4 296.9L324.9 297.2L324.2 295.0Z" fill="#41ab5d" stroke="#41ab5d"/>
<path d="M325.2 298.1L328.6 297.5L331.1 298.4L329.9 300.6L327.4 301.2Z" fill="#78c679" stroke="#78c679"/>
<path d="M344.9 303.8L347.4 304.0L350.2 303.5L351.8 305.0L355.5 305.0L356.1 312.5L355.5 316.5L350.5 317.8L346.1 318.8L344.9 315.0L344.2 308.8Z" fill="#addd8e" stroke="#addd8e"/>
<path d="M351.8 300.0L354.2 296.5L358.0 293.4L361.1 291.9L363.6 293.8L366.1 297.5L368.0 299.4L365.5 301.2L362.4 301.0L358.0 301.5L355.5 302.5L355.2 304.8L352.0 304.8L350.8 302.8Z" fill="#78c679" stroke="#78c679"/>
<path d="M356.1 302.5L362.4 301.9L363.2 305.0L363.6 310.0L364.2 314.6L361.1 317.1L358.0 318.2L356.1 316.2L356.1 312.5L355.8 305.0Z" fill="#f7fcb9" stroke="#f7fcb9"/>
<path d="M366.1 301.9L368.0 299.4L370.5 300.0L371.1 303.8L369.9 307.5L369.5 314.6L367.0 315.0L366.8 308.8L365.8 303.8Z" fill="#41ab5d" stroke="#41ab5d"/>
<path d="M372.4 280.6L389.5 269.4L396.8 271.9L398.0 278.8L398.0 286.2L396.1 291.2L394.9 295.6L390.5 296.2L385.5 295.6L380.5 296.5L376.8 295.6L373.6 295.0L371.8 298.1L370.5 300.0L368.0 299.1L366.1 297.2L364.0 293.8L366.1 291.5L370.5 289.6L372.4 287.5Z" fill="#addd8e" stroke="#addd8e"/>
<path d="M371.8 298.5L373.6 295.2L376.8 295.9L380.5 296.8L385.5 295.9L390.5 296.5L394.9 295.9L396.1 298.1L395.2 301.2L393.0 305.0L390.5 308.8L388.0 312.8L385.5 315.2L383.0 318.4L379.2 319.6L376.1 318.4L374.9 315.2L369.9 314.6L370.2 307.5L371.5 303.8Z" fill="#f7fcb9" stroke="#f7fcb9"/>
<path d="M418.1 248.8L425.0 250.0L430.0 248.5L435.6 249.0L439.0 250.6L440.2 254.8L437.5 256.9L434.4 253.5L437.5 258.1L438.5 257.5L440.0 262.5L442.5 267.5L445.2 273.1L419.4 273.1L418.8 260.0Z" fill="#78c679" stroke="#78c679"/>
<path d="M419.4 273.4L445.2 273.4L446.9 277.5L449.4 283.1L450.0 285.0L448.1 287.5L446.9 291.2L445.0 296.2L443.1 300.0L441.2 303.1L440.0 299.4L437.5 300.0L436.2 303.1L433.8 304.4L430.0 306.2L426.2 305.0L422.5 304.4L420.6 306.9L418.8 307.5L417.5 303.8L415.0 300.0L413.8 296.2L415.0 292.5L416.9 288.8L416.9 278.8L419.4 278.1Z" fill="#78c679" stroke="#78c679"/>
<path d="M441.2 303.1L443.1 300.0L445.0 296.2L446.9 293.1L450.6 292.5L454.4 294.4L457.5 297.5L460.0 300.0L459.8 302.5L462.5 306.2L465.0 308.8L466.2 307.5L472.5 310.0L468.8 314.4L464.4 317.5L459.4 320.0L456.2 320.9L451.2 321.5L446.2 319.6L443.1 316.2L441.2 313.1L439.4 310.0L441.9 305.0Z" fill="#41ab5d" stroke="#41ab5d"/>
<path d="M442.5 320.6L446.2 319.4L451.2 321.2L456.2 320.6L457.5 320.0L458.1 325.0L457.5 331.2L458.1 335.0L456.2 338.8L453.1 343.1L448.8 338.8L445.0 335.6L441.9 333.5L442.2 330.0L443.5 325.6Z" fill="#f7fcb9" stroke="#f7fcb9"/>
<path d="M433.8 321.5L437.5 321.0L441.9 320.6L443.1 325.6L441.9 330.0L441.5 333.1L437.5 333.5L432.5 333.1L431.9 329.4L432.5 325.0Z" fill="#d9f0a3" stroke="#d9f0a3"/>
<path d="M430.6 335.6L432.5 334.4L434.0 336.2L433.1 338.1L431.0 338.1Z" fill="#d9f0a3" stroke="#d9f0a3"/>
<path d="M432.5 333.5L437.5 333.8L441.9 333.8L445.0 335.9L448.8 339.0L453.1 343.4L452.5 347.5L453.5 352.5L455.0 357.5L454.8 359.4L450.0 360.6L445.0 361.2L440.6 358.8L438.8 356.2L436.2 354.4L433.1 353.1L431.9 350.0L430.6 345.6L431.2 341.9L433.1 341.2L433.5 337.5Z" fill="#f7fcb9" stroke="#f7fcb9"/>
<path d="M390.6 343.5L395.0 341.2L399.4 337.5L403.1 332.5L404.4 326.2L406.2 320.6L411.2 318.5L416.2 318.8L422.5 318.1L428.8 319.4L433.8 321.2L432.5 325.0L431.9 329.4L431.2 333.1L430.6 337.5L431.2 341.2L430.6 345.6L431.9 350.0L433.1 353.1L430.0 353.8L428.8 357.5L429.4 362.5L430.6 365.0L428.8 365.6L425.6 361.9L421.9 361.2L417.5 360.0L413.8 359.4L413.1 352.5L411.9 349.4L408.8 348.8L406.2 350.6L403.1 351.2L400.6 346.9L396.9 346.2L391.9 346.5Z" fill="#f7fcb9" stroke="#f7fcb9"/>
<path d="M391.2 346.5L396.9 346.2L400.6 346.9L403.1 351.2L406.2 350.6L408.8 348.8L411.9 349.4L413.1 352.5L413.8 359.4L417.5 360.0L417.2 363.8L413.8 364.4L413.5 370.0L414.0 375.0L414.7 374.2L410.0 376.3L403.3 376.7L396.7 376.3L390.0 375.8L389.8 375.0L390.6 370.0L391.9 365.0L393.1 358.8L392.5 352.5Z" fill="#f7fcb9" stroke="#f7fcb9"/>
<path d="M388.5 341.0L390.2 340.2L390.6 343.1L389.4 342.8Z" fill="#f7fcb9" stroke="#f7fcb9"/>
<path d="M413.8 364.4L417.2 363.8L417.5 360.2L421.9 361.5L425.6 362.1L428.8 365.9L430.6 365.0L429.4 362.5L428.8 357.5L430.0 354.0L433.1 353.1L436.2 354.4L438.8 356.2L438.5 361.2L437.5 365.0L435.0 368.1L431.2 370.0L428.8 371.9L425.6 375.0L422.5 376.3L418.3 375.8L414.7 374.2L414.0 375.0L413.5 370.0Z" fill="#ffffe5" stroke="#ffffe5"/>
<path d="M438.7 361.7L443.3 360.8L450.0 360.0L455.8 358.3L456.7 364.2L455.8 370.0L451.7 374.2L446.7 379.2L442.5 384.2L443.3 390.0L442.5 393.3L439.2 395.8L435.8 397.5L434.2 396.7L434.2 389.2L436.7 383.3L437.5 377.5L436.7 373.3L433.3 371.7L435.8 367.5L439.2 368.3L441.7 370.8L442.5 374.2L444.2 371.7L443.3 367.5L440.8 365.0Z" fill="#d9f0a3" stroke="#d9f0a3"/>
<path d="M438.7 356.7L440.8 358.3L441.3 364.2L443.3 367.5L444.2 371.7L442.5 374.2L441.7 370.8L440.0 367.5L438.7 364.2L438.3 360.0Z" fill="#d9f0a3" stroke="#d9f0a3"/>
<path d="M423.0 376.7L427.0 375.0L430.0 372.5L433.3 371.7L436.7 373.3L437.5 377.5L436.7 383.3L434.2 388.3L430.0 388.3L427.5 387.5L423.3 382.5L421.3 379.2Z" fill="#d9f0a3" stroke="#d9f0a3"/>
<path d="M400.0 405.3L403.3 405.8L407.5 404.7L408.7 395.8L410.0 400.3L413.0 398.0L417.0 398.0L420.3 395.3L423.7 391.3L427.5 388.0L430.3 388.7L434.2 389.2L434.2 396.7L435.8 398.0L436.7 400.8L434.2 405.8L430.0 410.8L424.2 415.8L418.3 418.3L411.7 420.0L405.8 421.7L402.5 418.3L401.7 412.5Z" fill="#d9f0a3" stroke="#d9f0a3"/>
<path d="M475.3 362.0L477.5 365.0L478.0 370.0L476.7 375.8L474.7 382.5L472.0 390.0L470.0 395.0L465.8 397.5L462.0 395.8L460.8 390.8L462.0 385.8L464.2 380.8L464.2 374.2L467.5 372.5L471.3 368.3L473.3 365.0Z" fill="#addd8e" stroke="#addd8e"/>
</g>
<g stroke="#444" stroke-opacity="0.6" stroke-width="0.4" stroke-linejoin="round">
<path d="M51.9 161.9L56.2 158.8L60.6 155.6L62.5 156.9L63.1 159.4L66.9 160.0L68.1 161.9L65.0 163.1L61.9 163.8L58.8 165.6L55.6 165.0L53.1 163.1Z" fill="#41ab5d"/>
<path d="M56.9 167.5L61.2 168.1L60.0 169.0Z" fill="#41ab5d"/>
<path d="M67.5 151.0L71.9 149.8L72.8 150.6L68.8 151.6Z" fill="#41ab5d"/>
<path d="M55.0 175.6L58.1 175.0L58.8 176.2L55.6 176.6Z" fill="#78c679"/>
<path d="M127.5 154.0L103.8 175.6L105.0 178.1L107.5 180.0L110.0 181.2L110.6 183.8L111.2 186.9L113.1 187.5L111.2 189.4L110.0 192.5L110.6 195.6L109.4 198.8L111.9 200.0L113.8 201.9L115.0 203.1L113.8 203.1L171.2 203.1L172.5 204.4L176.2 205.6L181.2 206.2L185.0 205.6L188.1 207.5L190.6 209.4L192.5 211.9L191.9 215.0L191.2 218.1L188.5 221.5L191.2 220.6L195.0 219.4L198.8 218.1L201.0 217.5L206.2 215.0L211.2 213.8L216.2 212.2L220.6 210.0L223.8 208.5L224.4 208.8L224.0 212.5L226.2 213.1L225.0 215.0L225.6 216.9L228.1 216.0L231.2 214.4L235.0 213.1L238.1 211.2L239.4 208.8L237.5 208.1L234.4 210.0L231.9 209.4L231.2 206.2L232.5 204.0L230.0 203.8L226.9 205.6L223.8 207.5L221.2 208.1L218.1 208.8L220.0 207.5L222.5 205.6L225.6 204.0L228.8 202.8L231.9 201.5L235.0 200.6L238.1 201.0L241.2 200.0L244.4 198.8L247.5 197.2L250.0 196.2L253.1 195.0L253.5 191.9L251.9 189.4L249.4 186.9L246.5 183.8L246.0 180.0L245.0 176.2L242.5 175.6L239.4 177.5L236.2 179.4L235.0 177.5L233.8 173.8L231.2 171.2L227.5 170.6L223.1 171.2L221.2 173.1L219.4 175.6L218.1 178.8L218.1 182.5L216.2 185.6L212.5 187.5L208.8 188.8L208.8 191.9L207.5 195.6L205.0 197.5L203.1 195.6L202.8 191.9L203.8 189.4L202.5 187.5L198.8 186.2L195.0 183.8L191.2 182.5L188.8 180.6L187.5 177.5L190.6 174.4L195.0 171.9L201.2 169.4L207.5 167.5L209.4 162.0L212.5 160.8L215.0 158.9L213.8 156.4L211.9 153.2L210.0 151.4L207.5 152.6L204.4 153.9L201.2 155.8L197.5 157.0L193.1 157.6L188.8 158.2L183.8 157.0L178.8 156.4L173.8 157.6L168.8 157.6L165.0 154.5L160.0 152.6L146.0 152.5L142.5 153.1L137.5 154.4L132.5 155.2Z" fill="#00562f"/>
<path d="M127.5 154.0L121.2 152.5L115.0 151.5L108.1 150.2L102.5 151.2L96.2 152.5L90.0 154.4L83.8 156.0L81.9 157.5L82.5 160.6L80.0 161.2L76.2 161.5L71.2 162.8L70.6 164.4L74.4 165.0L78.8 164.4L80.6 165.0L77.5 166.9L72.5 168.5L66.9 170.0L62.5 172.2L60.2 175.0L61.2 177.5L65.0 178.8L68.1 178.1L70.0 179.0L66.9 181.2L62.5 183.1L57.5 185.0L52.5 186.9L47.5 188.5L44.4 189.8L46.2 188.5L52.5 186.0L58.8 183.5L65.0 181.0L70.6 179.8L73.8 178.1L77.5 176.2L81.2 176.9L85.0 175.0L88.1 173.1L90.0 174.4L93.1 175.0L96.2 175.2L100.0 176.2L103.8 175.6L106.2 177.5L109.4 178.1L111.9 177.5L113.1 180.0L112.5 183.1L113.8 185.6L113.1 187.5L111.2 186.9L110.6 183.8L110.0 181.2L107.5 180.0L105.0 178.1L103.8 175.6Z" fill="#78c679"/>
<path d="M106.2 199.8L108.1 199.0L110.6 200.6L112.5 203.1L111.2 204.4L108.8 202.5L106.9 201.2Z" fill="#00562f"/>
<path d="M103.8 190.6L106.2 190.0L105.6 192.5L104.4 195.0L103.1 193.8Z" fill="#00562f"/>
<path d="M242.5 205.6L245.0 203.1L248.1 200.6L250.6 198.1L252.5 197.8L253.1 200.6L255.0 202.5L256.0 205.0L255.0 208.1L253.1 209.0L252.5 206.9L250.6 206.2L249.4 208.1L246.9 206.9L244.4 206.6Z" fill="#00562f"/>
<path d="M160.0 148.9L163.8 145.8L168.8 144.2L173.8 144.5L178.8 145.8L183.8 147.0L188.1 146.4L191.2 147.6L193.8 150.1L195.6 152.6L192.5 154.2L188.8 154.8L183.8 155.1L178.8 155.5L173.8 154.8L170.0 155.8L168.1 153.2L169.4 151.4L165.0 150.8L161.9 150.1Z" fill="#00562f"/>
<path d="M198.8 147.6L203.1 145.8L207.5 145.1L210.0 147.0L211.2 150.1L210.6 152.6L208.1 153.9L205.0 155.1L202.5 154.5L201.2 152.0L200.0 149.8Z" fill="#00562f"/>
<path d="M216.9 148.9L220.0 147.0L225.0 145.8L230.0 145.8L235.0 146.4L240.0 148.2L245.0 150.8L249.4 153.9L253.1 157.6L256.2 160.1L253.1 162.0L250.0 163.9L247.5 162.6L248.1 165.8L246.2 168.2L243.1 170.1L240.0 168.9L236.2 167.6L233.1 165.8L230.0 165.1L226.2 164.5L227.5 162.6L230.6 162.0L233.8 160.1L236.2 157.6L233.8 155.8L230.6 153.9L227.5 153.2L225.0 154.8L223.8 157.6L221.2 159.5L218.1 160.8L216.2 159.5L218.8 157.0L221.2 154.5L220.0 152.0L217.5 150.8Z" fill="#00562f"/>
<path d="M175.6 139.5L180.0 138.0L185.0 137.2L190.0 138.0L189.4 139.5L192.5 139.5L197.5 138.9L200.0 140.8L196.9 142.0L192.5 141.8L188.8 142.6L185.0 143.2L182.5 142.0L178.8 141.4Z" fill="#00562f"/>
<path d="M195.0 136.0L198.8 135.1L201.9 135.8L199.4 137.0L196.2 137.0Z" fill="#00562f"/>
<path d="M206.2 140.8L210.0 139.5L213.8 140.1L215.6 142.0L212.5 143.2L208.8 143.0Z" fill="#00562f"/>
<path d="M208.8 134.5L212.5 134.2L215.6 135.5L218.8 136.4L216.2 137.2L212.5 136.8L209.4 135.8Z" fill="#00562f"/>
<path d="M219.4 141.4L223.8 140.1L230.0 140.8L236.2 141.4L238.8 142.6L235.0 143.9L230.0 144.2L225.0 143.9L221.2 143.2Z" fill="#00562f"/>
<path d="M225.0 132.6L230.0 131.0L236.2 130.1L243.8 128.9L252.5 128.0L266.0 127.2L277.5 127.6L272.5 129.2L266.0 130.8L260.0 133.9L255.0 135.8L250.0 137.6L245.0 138.9L240.0 139.5L235.0 139.2L230.0 138.9L227.5 137.0L231.9 135.8L229.4 134.5L225.6 134.2Z" fill="#00562f"/>
<path d="M220.0 137.6L223.8 136.4L228.1 137.6L226.2 139.5L221.9 139.5Z" fill="#00562f"/>
<path d="M210.0 165.1L213.1 163.2L215.6 164.5L218.8 166.4L216.9 167.6L213.8 167.0L211.2 167.0Z" fill="#00562f"/>
<path d="M212.5 169.5L215.6 168.9L216.2 170.1L213.1 170.8Z" fill="#00562f"/>
<path d="M218.1 170.1L220.0 169.5L219.8 171.4Z" fill="#00562f"/>
<path d="M254.4 135.6L261.2 133.1L270.0 130.6L278.8 129.0L288.8 128.5L298.8 127.8L310.0 127.2L322.5 127.5L332.5 128.1L340.0 129.4L345.6 130.2L341.2 131.5L336.9 132.5L334.4 135.0L335.0 138.1L332.5 140.6L331.2 143.8L328.1 146.2L325.0 149.4L323.1 152.5L318.8 155.0L313.8 156.9L307.5 158.1L302.5 160.0L297.5 161.9L293.1 163.8L290.0 166.9L287.5 170.6L285.0 174.4L282.5 176.2L278.8 175.6L275.0 173.8L272.5 170.0L270.6 165.6L270.0 160.6L271.9 156.2L273.1 152.5L271.9 149.4L274.4 146.2L273.1 143.1L270.0 140.6L265.0 139.4L260.0 140.0L256.2 138.8Z" fill="url(#h)" stroke="#c4c4c4" stroke-opacity="1"/>
<path d="M320.6 163.1L323.1 161.2L327.5 161.9L332.5 161.2L336.9 160.6L338.8 162.5L337.5 165.0L333.8 166.5L330.0 167.2L326.2 166.9L322.5 165.6Z" fill="url(#h)" stroke="#c4c4c4" stroke-opacity="1"/>
<path d="M113.8 203.1L112.5 205.0L113.1 206.9L110.6 206.2L108.8 210.0L106.9 213.8L103.8 218.1L101.2 221.9L99.4 225.6L98.8 229.4L99.8 233.8L100.0 238.1L101.9 241.2L104.4 243.1L106.0 245.0L111.2 245.6L115.0 248.1L120.0 249.0L125.0 247.8L128.8 248.5L131.2 251.9L133.1 253.8L135.6 252.8L138.1 253.8L139.4 256.9L141.2 260.0L143.1 262.5L145.0 263.5L145.6 260.0L148.1 256.9L151.9 254.4L155.6 253.1L160.0 253.8L163.1 254.8L165.0 252.8L168.8 251.9L172.5 252.5L175.0 253.8L177.5 252.5L178.5 255.0L178.1 258.8L180.0 262.5L181.9 265.0L183.1 263.1L183.8 259.4L183.1 255.6L182.5 251.9L184.4 248.8L187.5 246.2L191.2 243.1L195.0 240.6L198.1 238.1L198.8 234.4L199.4 230.6L201.0 228.8L205.6 227.5L208.1 224.4L211.9 223.1L215.0 221.2L215.6 218.8L218.8 216.9L222.5 214.4L224.4 212.5L224.0 212.5L224.4 208.8L223.8 208.5L220.6 210.0L216.2 212.2L211.2 213.8L206.2 215.0L201.0 217.5L198.8 218.1L195.0 219.4L191.2 220.6L188.5 221.5L191.2 218.1L191.9 215.0L192.5 211.9L190.6 209.4L188.1 207.5L185.0 205.6L181.2 206.2L176.2 205.6L172.5 204.4L171.2 203.1Z" fill="#78c679"/>
<path d="M106.0 245.0L108.8 245.6L109.8 247.5L109.4 250.6L110.6 254.4L112.5 258.8L114.4 263.1L115.6 266.9L114.4 265.0L116.0 269.4L115.2 270.6L113.5 267.5L111.9 263.8L110.6 259.4L110.6 262.5L108.1 259.4L106.9 258.8L108.1 256.9L106.9 251.9L106.2 248.1Z" fill="#41ab5d"/>
<path d="M110.6 246.2L115.0 248.4L120.0 249.2L125.0 248.0L128.8 248.8L131.2 252.1L133.1 254.0L135.6 253.0L138.1 254.0L139.4 257.1L141.2 260.2L143.1 262.8L145.0 263.8L143.8 262.5L143.1 265.6L142.2 269.4L142.8 273.8L144.4 278.1L146.9 281.9L150.0 282.8L153.8 281.2L156.2 279.4L158.1 276.2L162.5 274.8L166.9 275.0L165.6 278.1L163.8 281.2L162.5 283.8L160.6 284.4L158.1 284.8L156.5 285.6L155.0 287.5L153.1 289.4L151.9 291.0L150.0 289.4L147.5 288.1L143.8 289.8L139.4 287.5L134.4 284.4L129.4 281.9L125.0 279.4L123.5 276.9L124.8 273.8L123.1 270.0L120.6 266.2L118.1 262.5L115.6 257.5L113.8 253.8L112.5 247.5Z" fill="#41ab5d"/>
<path d="M160.6 284.8L162.5 283.8L163.1 285.6L161.9 288.1L160.6 287.5Z" fill="url(#h)" stroke="#c4c4c4" stroke-opacity="1"/>
<path d="M153.1 289.8L155.0 287.8L156.5 285.9L158.1 285.0L160.6 284.8L160.6 287.5L160.0 289.4L161.2 290.0L159.4 291.9L156.9 293.1L154.4 292.5Z" fill="#78c679"/>
<path d="M156.9 293.5L159.4 292.2L161.9 293.8L162.5 295.2L160.0 295.6L158.1 294.8Z" fill="#78c679"/>
<path d="M160.0 289.8L163.8 289.0L168.1 289.0L171.2 290.0L172.5 291.9L170.0 292.5L167.5 293.8L165.0 295.6L163.1 295.6L161.9 293.8L159.6 292.1L161.2 290.2Z" fill="#78c679"/>
<path d="M163.1 296.0L165.2 295.9L167.8 294.0L170.2 292.8L172.5 292.1L171.9 295.6L171.2 298.8L170.6 301.2L168.1 300.6L165.6 300.0L164.8 298.1Z" fill="#78c679"/>
<path d="M165.6 300.2L168.1 301.0L170.6 301.5L171.9 303.8L173.1 306.2L171.9 308.8L170.0 306.9L168.1 305.6L166.9 303.8L166.0 301.9Z" fill="#238443"/>
<path d="M173.1 306.5L175.6 307.5L178.1 306.2L180.6 305.6L183.1 306.9L184.8 308.8L184.4 311.0L182.5 310.0L181.2 308.1L179.4 308.8L178.5 311.2L176.2 310.0L174.0 308.8Z" fill="#addd8e"/>
<path d="M171.2 273.5L173.8 271.5L177.5 270.2L181.9 270.6L185.6 272.2L189.4 274.4L192.5 276.2L195.0 278.1L191.2 278.8L187.5 278.1L186.9 276.2L183.8 274.4L180.0 273.1L175.6 272.5L173.1 273.8Z" fill="#41ab5d"/>
<path d="M185.0 283.1L187.5 282.5L189.8 283.5L188.1 284.8L185.6 284.4Z" fill="#d9f0a3"/>
<path d="M193.8 282.5L196.9 282.2L199.4 283.8L197.5 280.6L196.2 279.4L200.0 278.8L203.8 279.4L206.2 281.2L207.5 282.8L205.0 283.5L202.5 283.1L200.6 284.8L198.1 283.8L195.6 283.5Z" fill="#d9f0a3"/>
<path d="M210.0 282.8L213.1 282.5L213.5 283.8L210.2 284.0Z" fill="url(#h)" stroke="#c4c4c4" stroke-opacity="1"/>
<path d="M186.5 261.0L188.8 260.2L190.0 261.9L188.1 262.5Z" fill="#ffffff" stroke="#c4c4c4" stroke-opacity="1"/>
<path d="M187.2 265.2L188.5 265.0L188.8 267.5L187.5 267.8Z" fill="#ffffff" stroke="#c4c4c4" stroke-opacity="1"/>
<path d="M190.0 310.0L203.3 315.0L215.0 328.3L245.0 328.3L273.3 343.3L271.7 373.3L245.0 413.3L235.0 418.3L221.7 455.0L215.0 446.7L208.7 390.0L205.0 360.0L198.3 340.0Z" fill="#238443"/>
<path d="M185.0 308.0L187.5 304.2L190.8 302.0L195.8 300.0L199.7 298.3L200.0 300.8L197.5 303.3L196.3 306.7L197.5 311.7L202.5 313.3L206.7 315.0L207.5 320.8L206.7 325.0L203.0 327.0L202.5 331.7L202.0 336.7L198.3 337.5L194.2 335.0L190.0 331.7L185.8 330.0L181.7 327.5L183.3 323.3L185.0 319.2L184.7 313.3Z" fill="#238443"/>
<path d="M199.7 300.8L202.0 299.7L206.7 302.0L212.5 303.0L218.3 303.3L221.7 302.5L224.2 306.7L225.0 310.0L222.5 313.3L224.2 316.7L221.7 319.2L218.3 320.8L215.0 321.3L214.7 325.8L210.8 328.3L208.0 325.8L207.5 320.8L206.7 315.0L202.5 313.3L197.5 311.7L196.7 306.7L198.3 304.2Z" fill="#41ab5d"/>
<path d="M198.3 303.7L199.7 303.0L200.0 306.3L198.7 306.7Z" fill="#ffffff" stroke="#c4c4c4" stroke-opacity="1"/>
<path d="M225.0 310.0L229.2 311.7L235.0 315.0L240.8 316.7L244.7 319.2L243.3 323.3L240.8 325.0L236.7 324.2L232.5 325.0L228.3 326.7L225.3 325.0L225.8 320.8L222.5 316.7L222.5 313.3Z" fill="url(#h)" stroke="#c4c4c4" stroke-opacity="1"/>
<path d="M203.0 327.0L206.7 325.3L210.8 328.7L214.7 326.2L215.0 321.7L218.7 321.2L222.0 319.5L225.3 325.3L228.7 327.0L232.8 325.3L237.0 324.5L241.2 325.3L243.7 323.7L245.0 319.5L246.7 323.3L247.5 329.2L251.7 331.7L258.3 334.2L265.0 336.7L273.3 339.2L280.0 343.3L283.0 347.5L282.5 354.2L280.0 360.0L275.8 365.8L274.2 371.7L273.3 378.3L271.7 385.0L273.3 380.0L271.7 385.0L269.2 390.0L263.3 391.7L258.3 394.2L255.0 398.3L254.2 403.3L251.7 408.3L248.3 413.3L246.7 415.8L241.7 411.7L236.7 409.7L240.0 405.0L243.3 400.8L240.8 398.3L240.8 395.8L238.3 393.3L237.5 389.2L233.3 387.5L231.7 382.5L231.7 383.3L231.7 377.5L227.5 373.3L224.2 368.3L220.0 365.8L215.0 361.7L212.5 356.7L209.2 357.5L205.0 359.2L201.7 357.5L198.3 354.2L195.0 351.7L194.7 347.5L197.5 344.2L200.8 341.7L202.0 337.0L202.5 331.7Z" fill="#238443"/>
<path d="M181.7 327.8L185.8 330.3L190.0 332.0L188.3 335.8L185.0 339.2L180.8 341.7L177.5 343.3L175.8 339.2L176.7 334.2L179.2 330.0Z" fill="#41ab5d"/>
<path d="M175.8 343.7L180.8 342.0L185.0 339.5L188.3 336.2L190.0 332.3L194.2 335.3L198.3 337.8L200.8 341.7L197.5 344.5L194.7 347.8L195.0 352.0L198.3 354.5L201.7 357.8L205.0 359.5L204.2 365.0L205.0 370.0L203.7 375.0L204.2 378.3L200.8 376.7L195.0 371.7L190.0 365.0L185.8 358.3L181.7 351.7L178.3 346.7Z" fill="#41ab5d"/>
<path d="M205.0 359.5L209.2 357.8L212.5 357.0L215.0 362.0L220.0 366.2L224.2 368.7L227.5 373.7L231.7 377.8L231.7 383.3L228.3 382.5L224.2 381.7L221.7 386.7L222.5 388.3L218.3 388.3L213.3 387.5L208.7 388.3L205.8 385.0L205.0 379.2L204.2 375.0L205.0 370.0L204.2 365.0Z" fill="#238443"/>
<path d="M222.0 385.0L224.2 382.0L228.3 381.3L231.7 382.5L233.3 387.5L237.5 389.2L238.3 393.3L240.8 395.8L240.8 398.7L238.3 401.7L235.0 402.5L233.0 400.0L233.3 396.7L229.2 394.2L225.8 390.8L222.5 388.3Z" fill="#addd8e"/>
<path d="M208.7 388.3L213.3 387.5L218.3 388.3L222.5 388.7L225.8 391.2L229.2 394.5L233.3 397.0L233.0 400.3L235.0 402.8L238.3 402.0L240.8 399.0L243.3 401.2L240.0 405.3L236.7 410.0L235.3 414.5L235.8 419.5L238.3 421.7L240.0 425.0L240.3 428.3L237.5 430.8L233.3 431.7L230.8 433.3L231.3 437.5L227.5 438.3L226.3 440.0L229.7 441.7L227.5 445.8L227.0 448.3L225.0 450.0L225.3 453.3L228.3 455.0L229.2 457.5L226.7 459.2L225.0 461.7L227.5 465.8L228.3 467.5L225.0 466.7L221.7 464.2L218.3 460.0L215.8 455.0L214.2 448.3L211.7 443.3L210.3 436.7L209.7 428.3L208.7 420.0L209.2 411.7L208.0 403.3L209.7 395.8Z" fill="#238443"/>
<path d="M225.3 467.0L228.3 467.8L231.7 470.0L235.0 471.7L232.5 472.5L229.2 471.3L226.3 470.0Z" fill="#238443"/>
<path d="M236.7 409.7L241.7 411.7L246.7 415.8L245.8 419.2L242.5 421.7L238.3 421.3L235.8 419.2L235.3 414.2Z" fill="#238443"/>
<path d="M203.7 378.3L205.8 380.8L207.5 386.7L205.8 385.0L208.7 388.3L209.7 395.8L208.0 403.3L209.2 411.7L208.7 420.0L209.7 428.3L210.3 436.7L211.7 443.3L214.2 448.3L215.8 455.0L218.3 460.0L221.7 464.2L225.0 466.7L224.7 470.0L221.7 468.3L218.3 466.7L215.0 463.3L212.0 458.3L210.0 453.3L208.7 448.3L209.2 444.2L207.5 442.5L206.3 436.7L205.0 428.3L205.3 420.0L204.7 411.7L205.0 403.3L204.7 395.0L204.2 387.5L203.7 380.0Z" fill="#004529"/>
<path d="M221.7 468.3L225.0 470.0L229.2 472.0L233.3 473.3L237.0 472.7L233.3 474.3L228.3 473.7L223.3 471.3Z" fill="#004529"/>
<path d="M413.1 153.8L414.4 153.8L418.8 155.0L425.0 156.2L430.0 157.5L433.1 158.8L431.2 160.6L427.5 161.2L423.8 161.9L421.2 160.6L423.8 163.1L426.9 165.6L429.4 164.4L432.5 162.5L435.0 160.6L438.8 160.0L437.5 157.5L440.0 156.9L442.5 159.4L447.5 158.1L452.5 156.9L457.5 156.2L462.5 153.8L467.5 154.4L471.0 155.0L471.7 155.0L475.8 155.8L478.3 156.7L475.0 153.3L472.5 150.8L473.3 147.5L476.7 146.7L480.0 148.3L481.7 151.7L484.2 155.0L486.7 159.2L488.3 160.8L490.0 159.2L488.3 155.8L485.8 152.5L483.3 148.3L485.8 149.2L488.3 147.5L491.7 145.0L496.7 144.2L500.0 141.7L505.0 140.3L511.7 139.7L516.7 138.0L521.7 137.5L528.3 139.2L535.0 140.0L538.3 141.7L536.7 144.2L541.7 145.0L548.3 145.8L555.0 146.3L561.7 145.3L568.3 146.7L573.3 149.2L578.3 150.8L583.3 149.7L585.0 146.3L591.7 147.5L598.3 148.3L605.0 149.7L611.7 151.3L618.3 150.8L625.0 151.7L630.0 153.3L636.7 154.2L641.7 154.7L646.7 155.0L645.8 153.7L651.7 153.0L658.3 153.7L665.0 155.8L670.0 159.2L675.0 162.5L679.2 165.8L685.8 170.0L680.8 171.7L677.5 174.2L676.7 176.3L671.7 175.8L666.7 177.0L668.3 180.8L672.5 184.2L675.0 189.2L674.2 191.7L675.3 195.8L675.0 198.0L671.7 195.8L667.5 191.7L663.3 187.5L660.0 184.2L658.3 180.8L660.0 177.5L660.8 173.3L658.3 170.8L656.7 173.3L652.5 173.0L648.3 174.2L649.2 178.3L645.0 178.7L640.0 178.0L635.0 178.7L628.3 179.2L625.8 184.2L624.2 188.3L629.2 189.7L634.2 190.8L638.3 193.3L642.5 198.3L645.0 203.3L646.7 210.0L645.8 215.8L642.5 219.2L639.2 218.3L635.8 215.8L638.0 211.7L636.7 206.7L635.0 205.0L631.7 206.7L627.5 204.2L623.3 201.7L618.3 199.2L613.3 195.8L608.3 193.3L601.7 192.5L600.0 195.0L600.8 199.2L598.3 201.7L591.7 200.0L585.0 200.8L585.0 202.5L578.3 202.0L571.7 200.3L565.0 198.7L559.2 196.7L557.5 198.7L551.7 200.0L545.8 200.3L540.8 202.8L537.5 202.0L533.3 200.3L528.3 198.3L523.3 198.7L518.3 195.3L513.3 192.8L510.0 191.2L503.3 190.3L496.7 187.8L488.3 190.3L482.5 192.0L484.2 197.0L480.0 198.7L473.3 198.7L466.7 197.0L461.7 197.8L457.5 202.0L459.4 208.1L460.6 213.1L460.0 214.0L460.6 215.6L461.9 217.5L464.4 220.6L466.9 224.0L465.0 223.4L462.5 221.5L460.6 222.8L459.4 220.9L455.0 220.0L451.2 219.2L447.5 217.8L443.8 215.9L441.0 213.0L442.8 211.2L441.2 209.6L442.5 208.1L443.8 205.0L442.8 202.2L439.4 201.2L435.0 199.4L431.9 197.5L430.0 195.0L426.9 195.6L426.2 193.8L425.0 190.6L421.2 185.6L421.9 186.9L418.8 185.6L416.2 184.4L415.0 181.0L415.0 178.1L414.4 175.6L416.2 173.8L418.8 171.2L417.5 169.4L415.6 166.2L413.8 161.9L411.9 158.1Z" fill="#41ab5d"/>
<path d="M401.2 188.1L404.0 188.1L405.0 189.4L401.9 189.8Z" fill="#41ab5d"/>
<path d="M446.9 148.8L448.1 145.0L451.2 141.9L456.2 140.2L462.5 139.4L467.5 139.0L465.0 140.6L460.0 141.9L455.6 143.1L453.1 145.6L454.4 148.8L457.5 151.2L454.4 151.9L450.6 150.6Z" fill="#41ab5d"/>
<path d="M455.0 141.7L461.7 139.7L467.5 138.7L465.0 140.8L459.2 142.5L455.0 143.3Z" fill="#41ab5d"/>
<path d="M493.3 131.7L498.3 130.8L505.0 132.0L509.2 134.2L505.0 134.7L498.3 133.7L495.0 133.0Z" fill="#41ab5d"/>
<path d="M510.8 134.7L515.0 134.7L518.0 136.3L514.2 136.7Z" fill="#41ab5d"/>
<path d="M574.2 140.8L580.0 140.3L585.8 141.3L588.3 142.5L583.3 142.5L577.5 142.0Z" fill="#41ab5d"/>
<path d="M590.0 141.7L596.0 142.5L598.3 143.3L593.3 143.3Z" fill="#41ab5d"/>
<path d="M586.7 145.0L590.8 145.3L590.0 146.7Z" fill="#41ab5d"/>
<path d="M655.0 150.0L658.3 150.8L657.0 151.7Z" fill="#41ab5d"/>
<path d="M639.2 190.3L641.7 191.7L645.8 196.7L650.0 200.8L654.2 203.3L652.5 204.2L655.0 208.3L657.5 210.3L655.0 210.0L651.7 206.7L648.3 202.5L644.2 197.5L640.8 193.3Z" fill="#41ab5d"/>
<path d="M378.8 133.8L386.2 132.5L401.2 132.0L397.5 134.5L392.5 137.0L387.5 138.8L382.5 137.0Z" fill="#41ab5d"/>
<path d="M393.8 137.5L398.8 136.5L397.5 138.5Z" fill="#41ab5d"/>
<path d="M427.5 131.2L435.0 132.0L431.2 133.0Z" fill="#41ab5d"/>
<path d="M376.3 192.5L391.3 192.1L404.0 186.1L416.8 186.1L425.0 191.8L425.0 207.5L422.0 215.8L421.6 222.5L416.0 230.0L408.1 230.0L401.0 218.0L389.8 215.4L377.4 212.8L376.3 207.5Z" fill="url(#h)" stroke="#c4c4c4" stroke-opacity="1"/>
<path d="M372.5 172.5L374.4 170.0L377.5 168.1L381.2 165.6L383.8 163.1L386.2 159.4L389.4 156.2L393.1 153.8L397.5 152.5L402.5 151.2L407.5 150.6L412.5 151.2L414.4 153.8L413.1 153.8L410.6 155.0L407.5 153.5L403.8 154.4L400.6 155.6L396.2 156.2L393.1 158.1L390.0 160.6L388.1 164.4L386.9 167.5L385.0 170.6L385.6 173.8L385.0 177.5L381.9 178.1L378.8 179.4L375.0 180.0L373.1 177.5Z" fill="#41ab5d"/>
<path d="M385.0 177.5L385.6 173.8L385.0 170.6L386.9 167.5L388.1 164.4L390.0 160.6L393.1 158.1L396.2 156.2L400.6 155.6L402.5 158.1L403.8 161.2L401.9 164.4L399.4 166.2L397.5 169.4L395.6 172.5L395.0 176.2L396.2 179.4L395.0 183.1L393.1 185.6L390.6 186.9L388.1 185.6L386.2 183.1L384.4 180.0Z" fill="url(#h)" stroke="#c4c4c4" stroke-opacity="1"/>
<path d="M403.8 154.4L407.5 153.5L410.6 155.0L411.9 158.1L413.8 161.9L415.6 166.2L417.5 169.4L418.8 171.2L416.2 173.8L413.1 175.6L409.4 176.9L406.2 176.2L403.8 173.8L402.5 170.6L404.4 167.5L405.6 164.4L404.0 161.2L402.8 158.1L401.2 155.6Z" fill="url(#h)" stroke="#c4c4c4" stroke-opacity="1"/>
<path d="M406.9 178.1L410.6 177.2L414.4 178.1L415.0 180.6L411.2 181.2L408.1 181.0Z" fill="url(#h)" stroke="#c4c4c4" stroke-opacity="1"/>
<path d="M405.0 183.1L408.1 181.5L411.9 181.5L415.0 181.0L416.2 184.4L413.1 185.0L409.4 184.4L405.6 185.6Z" fill="url(#h)" stroke="#c4c4c4" stroke-opacity="1"/>
<path d="M408.5 203.8L410.0 201.9L410.9 199.3L410.0 197.0L413.0 196.4L417.5 196.3L422.0 196.4L423.8 195.0L426.9 195.6L430.0 195.0L431.9 197.5L435.0 199.4L439.4 201.2L442.8 202.2L443.8 205.0L442.5 208.1L440.6 209.0L436.9 210.2L435.0 211.2L431.9 211.2L435.0 212.2L436.2 213.8L433.8 214.4L432.2 213.1L430.6 210.0L427.5 209.4L425.6 209.8L422.8 207.1L420.5 205.4L417.9 205.3L413.8 205.3L410.8 205.3Z" fill="#238443"/>
<path d="M378.8 183.8L380.6 182.2L382.5 183.1L381.9 186.2L382.5 188.8L380.0 189.0L378.8 186.9Z" fill="#004529"/>
<path d="M384.4 186.2L386.5 186.0L386.9 187.8L385.0 188.1Z" fill="#004529"/>
<path d="M353.8 205.0L358.1 203.5L360.0 204.4L363.1 201.9L366.2 199.4L368.8 198.1L371.2 199.4L373.8 201.2L376.2 203.1L378.1 205.0L377.5 207.5L376.2 209.4L376.9 211.9L378.1 213.8L376.2 215.6L373.1 216.9L370.0 216.5L368.1 218.1L365.0 217.5L361.9 218.1L360.0 216.9L360.6 212.5L360.0 209.4L357.5 207.5L355.0 206.5Z" fill="#238443"/>
<path d="M381.5 219.4L382.8 219.0L383.0 223.1L381.8 223.5Z" fill="#238443"/>
<path d="M343.8 218.1L347.5 216.9L352.5 217.5L357.5 218.1L361.9 218.8L365.6 219.0L368.1 219.8L366.2 221.9L364.4 224.4L363.1 227.5L361.9 230.6L359.4 232.5L355.6 233.8L351.9 235.0L350.6 236.9L348.1 234.4L346.9 231.2L347.5 227.5L346.9 223.8L344.0 221.2Z" fill="#238443"/>
<path d="M343.5 221.9L346.9 223.8L347.5 227.5L346.9 231.2L346.0 233.8L343.1 233.1L342.8 228.8L343.5 225.0Z" fill="url(#h)" stroke="#c4c4c4" stroke-opacity="1"/>
<path d="M351.9 181.9L353.8 180.0L356.9 179.8L358.8 181.2L357.5 183.8L359.4 186.2L361.9 188.1L363.1 191.2L365.0 193.8L366.2 196.2L364.4 198.1L360.6 198.5L357.5 198.8L353.8 200.0L351.9 199.4L355.0 197.5L353.8 195.6L355.0 193.8L356.9 192.5L355.6 190.6L353.8 188.1L352.5 185.6L352.2 183.1Z" fill="#006837"/>
<path d="M348.1 188.8L350.6 187.8L351.9 189.8L349.4 190.6Z" fill="#006837"/>
<path d="M343.8 191.9L346.2 189.8L348.5 190.6L350.6 191.2L351.0 193.8L348.8 195.6L345.6 196.5L343.5 195.0Z" fill="url(#h)" stroke="#c4c4c4" stroke-opacity="1"/>
<path d="M404.0 186.1L407.0 185.4L411.5 186.1L413.8 187.6L411.9 189.9L409.3 190.6L407.0 189.4L404.8 188.4Z" fill="#238443"/>
<path d="M410.0 190.6L413.0 188.0L416.8 186.1L420.5 186.5L423.5 189.1L425.0 191.8L427.3 193.3L424.3 194.8L420.5 196.3L416.0 195.9L411.5 196.3L410.0 193.6Z" fill="#41ab5d"/>
<path d="M417.9 205.3L420.5 205.4L422.8 207.1L423.9 209.8L422.4 210.5L420.9 208.3L419.4 206.8Z" fill="url(#h)" stroke="#c4c4c4" stroke-opacity="1"/>
<path d="M406.6 209.0L408.5 206.8L411.5 206.0L416.0 206.0L419.0 207.5L420.9 209.8L422.4 212.8L422.0 215.8L417.5 216.1L413.0 215.8L410.0 214.3L407.8 212.0Z" fill="#78c679"/>
<path d="M411.1 216.9L413.8 216.1L417.5 216.5L421.3 216.1L421.6 218.4L420.9 220.6L421.6 222.5L417.5 223.3L413.8 222.5L411.9 220.3Z" fill="#006837"/>
<path d="M391.3 192.1L395.0 189.9L400.3 189.1L407.0 189.5L408.9 192.5L410.0 196.3L410.8 199.3L409.6 201.9L407.0 203.0L401.0 202.6L398.0 200.9L395.0 199.1L391.3 198.4L390.9 194.8Z" fill="#41ab5d"/>
<path d="M387.9 200.4L391.3 198.5L395.0 199.3L398.0 201.1L400.6 202.6L398.0 203.8L395.0 204.4L391.3 203.0L389.0 202.3Z" fill="url(#h)" stroke="#c4c4c4" stroke-opacity="1"/>
<path d="M398.0 204.1L401.0 203.0L405.5 202.9L408.5 203.4L407.4 205.3L404.0 205.4L400.3 206.0L398.4 205.6Z" fill="url(#h)" stroke="#c4c4c4" stroke-opacity="1"/>
<path d="M396.9 207.5L400.3 206.4L404.0 205.6L407.8 205.3L408.5 206.4L407.0 208.3L404.0 210.1L400.3 210.9L397.6 209.8Z" fill="#41ab5d"/>
<path d="M376.3 191.8L378.9 189.5L382.3 189.1L384.9 190.3L388.3 189.7L390.9 191.0L391.3 194.8L391.4 198.4L389.0 200.0L387.9 201.1L389.4 202.6L390.5 204.5L389.8 206.0L383.8 207.4L380.0 207.5L376.3 207.5L376.6 203.8L375.5 201.1L376.3 197.4Z" fill="#006837"/>
<path d="M371.4 192.9L376.3 192.1L376.3 197.4L374.0 197.0L371.4 196.3Z" fill="#004529"/>
<path d="M369.1 197.4L371.4 196.4L374.8 197.6L376.3 197.9L375.5 201.1L371.8 201.1Z" fill="#238443"/>
<path d="M376.3 207.9L383.8 207.1L384.1 210.1L377.4 210.9Z" fill="#006837"/>
<path d="M383.4 207.1L389.8 205.6L396.5 204.1L397.3 206.8L394.3 209.0L387.5 209.0L383.8 208.3Z" fill="#006837"/>
<path d="M377.4 212.8L381.1 211.3L385.3 209.8L387.5 209.4L390.9 210.1L391.3 211.6L389.0 213.1L389.8 215.8L392.4 218.8L395.8 221.8L399.1 224.0L401.8 225.9L400.6 227.0L398.4 226.6L399.5 230.0L398.8 233.0L396.9 233.8L396.5 230.0L395.8 227.0L392.8 224.0L389.8 221.0L386.8 218.0L384.9 215.8L383.0 215.0L380.0 215.4L378.1 214.6Z" fill="#41ab5d"/>
<path d="M390.0 231.9L395.6 231.0L395.0 233.8L391.9 234.0Z" fill="#41ab5d"/>
<path d="M380.4 224.0L383.0 223.6L383.4 228.5L381.1 228.9Z" fill="#41ab5d"/>
<path d="M381.4 219.1L382.6 218.8L383.0 222.1L381.7 222.5Z" fill="#238443"/>
<path d="M389.4 213.1L391.3 211.9L395.0 210.9L397.3 210.1L400.3 211.3L402.9 211.3L404.0 214.3L405.9 216.9L407.4 219.1L409.6 219.5L410.0 222.9L407.4 223.6L405.9 222.1L403.3 220.3L401.0 218.0L398.0 215.8L395.0 214.3L392.0 214.3L389.8 215.4Z" fill="url(#h)" stroke="#c4c4c4" stroke-opacity="1"/>
<path d="M402.9 210.9L405.9 210.1L407.8 212.4L410.0 214.6L410.8 217.3L409.6 219.1L407.4 218.8L405.5 216.5L404.0 213.9Z" fill="#78c679"/>
<path d="M410.0 223.3L413.0 222.9L413.8 225.1L411.1 225.9Z" fill="#238443"/>
<path d="M407.4 224.0L409.6 223.6L410.8 226.3L410.4 230.0L409.3 231.5L408.1 230.0L407.0 227.0Z" fill="#238443"/>
<path d="M410.8 226.3L413.8 225.5L417.5 224.0L422.0 223.3L420.5 225.5L417.5 225.9L415.3 227.0L416.0 230.0L415.0 230.6L414.4 233.8L412.5 235.6L411.5 233.5L412.8 232.2L411.0 231.5L409.3 231.5L410.4 230.0Z" fill="#238443"/>
<path d="M414.4 238.1L419.4 238.8L419.8 239.8L415.0 239.4Z" fill="#238443"/>
<path d="M419.4 228.1L420.6 225.6L423.8 223.8L427.5 223.1L431.2 221.9L435.0 221.5L440.0 221.9L445.0 222.5L448.8 223.1L453.1 223.1L456.9 224.4L458.1 226.9L457.5 230.0L458.1 232.5L455.0 233.1L451.2 233.8L447.5 234.4L443.8 235.0L441.2 235.6L439.4 234.4L436.9 235.0L433.8 235.6L430.6 235.6L427.5 236.0L425.0 234.4L421.9 233.5L420.0 231.2Z" fill="#006837"/>
<path d="M419.4 223.1L421.9 222.5L423.1 223.8L420.6 224.8Z" fill="#006837"/>
<path d="M434.4 238.1L436.9 237.2L436.2 238.8Z" fill="#ffffff" stroke="#c4c4c4" stroke-opacity="1"/>
<path d="M447.5 217.8L451.2 219.2L455.0 220.0L459.4 220.9L460.6 222.8L458.1 223.4L455.0 222.8L451.9 222.5L450.0 220.6Z" fill="url(#h)" stroke="#c4c4c4" stroke-opacity="1"/>
<path d="M458.1 223.4L460.6 222.8L462.5 221.5L465.0 223.4L466.9 224.0L468.1 226.9L467.8 230.0L465.6 228.1L463.1 228.8L461.2 227.5L459.4 225.6Z" fill="#41ab5d"/>
<path d="M457.5 201.7L461.7 197.5L466.7 196.7L473.3 198.3L480.0 198.3L484.2 196.7L482.5 191.7L488.3 190.0L496.7 187.5L503.3 190.0L510.0 190.8L513.3 192.5L518.3 195.0L523.3 198.3L528.3 198.0L533.3 200.0L537.5 201.7L536.7 208.3L533.3 210.8L532.5 215.0L530.0 217.5L516.0 218.8L512.5 219.4L510.0 222.5L507.5 223.8L505.0 221.9L501.2 218.8L497.5 216.9L493.8 217.5L491.2 215.6L487.5 213.8L483.1 212.2L478.8 213.8L478.5 217.5L479.4 221.2L477.5 223.1L475.0 221.9L473.1 220.0L470.0 217.5L469.4 214.4L471.2 212.5L471.9 210.0L470.0 208.8L466.2 209.0L462.5 210.6L460.6 213.1L459.4 208.1L457.5 204.4L457.5 200.6Z" fill="#addd8e"/>
<path d="M487.5 228.8L505.0 231.2L525.0 233.1L526.2 235.0L518.8 242.5L505.0 255.0L502.5 262.5L487.5 262.5Z" fill="#41ab5d"/>
<path d="M478.5 213.8L483.1 212.2L487.5 213.8L491.2 215.6L493.8 217.5L497.5 216.9L501.2 218.8L505.0 221.9L507.5 223.8L507.5 222.5L510.0 220.6L511.9 220.0L511.2 222.2L513.1 223.1L515.6 224.4L514.4 226.2L512.5 225.0L510.6 226.9L507.5 228.1L508.8 231.9L505.0 231.9L501.9 229.4L497.5 226.9L493.8 224.4L490.0 223.1L486.2 219.8L485.0 221.2L482.5 221.9L479.4 221.5L478.5 217.5Z" fill="#addd8e"/>
<path d="M476.2 225.0L478.1 224.4L479.4 221.9L482.5 222.2L485.0 221.5L486.5 220.0L490.0 223.1L493.8 224.4L497.5 226.9L501.9 229.4L505.0 231.9L504.4 234.0L502.5 236.5L498.8 238.1L495.6 239.0L492.5 235.6L490.0 233.1L488.8 232.2L483.8 231.5L480.0 232.2L478.1 231.2L476.2 228.1Z" fill="#78c679"/>
<path d="M511.9 220.0L516.9 218.1L522.5 218.5L527.5 219.0L531.5 220.6L529.4 222.5L525.6 223.8L523.1 225.0L520.0 226.9L516.9 227.5L514.4 226.2L515.6 224.4L513.1 223.1L511.2 222.2Z" fill="#238443"/>
<path d="M507.5 228.1L510.6 226.9L512.5 225.0L514.4 226.2L516.9 227.8L520.0 227.1L521.9 228.8L524.4 233.1L521.2 234.4L518.1 233.8L515.6 231.9L513.1 232.5L510.6 233.8L508.8 231.9Z" fill="#41ab5d"/>
<path d="M495.6 239.4L498.8 238.1L502.5 236.9L505.0 233.8L508.8 232.2L510.6 234.0L513.1 232.8L515.6 232.1L518.1 234.0L521.2 234.6L524.4 233.4L525.6 234.0L521.9 235.6L518.8 236.9L518.1 240.6L515.6 243.1L515.0 246.9L511.9 248.8L508.8 251.9L504.4 253.1L500.0 253.8L498.1 250.0L496.2 246.2L495.6 242.5Z" fill="#41ab5d"/>
<path d="M518.8 236.9L521.9 235.6L525.6 234.4L528.1 236.9L531.2 239.4L528.8 240.6L525.6 241.2L525.0 243.8L527.5 246.2L526.9 249.4L524.4 252.5L522.5 256.2L519.4 259.4L518.8 261.2L521.2 264.4L522.5 266.9L519.4 268.1L515.0 265.6L511.2 265.0L506.2 264.4L501.9 265.0L503.8 260.6L500.2 254.0L504.4 253.4L508.8 252.1L511.9 249.0L515.0 247.1L515.6 243.4L518.1 240.9Z" fill="#d9f0a3"/>
<path d="M458.1 229.4L460.0 228.1L462.5 230.0L465.6 228.5L467.8 230.2L469.4 233.1L472.5 234.6L476.2 235.0L478.8 234.0L480.0 232.5L483.8 231.8L488.8 232.5L492.5 234.0L495.6 239.0L495.6 242.5L496.2 246.2L498.1 250.0L500.2 254.0L503.8 260.6L501.9 265.0L497.5 264.4L493.8 262.5L497.5 264.4L492.5 263.5L489.0 262.8L486.2 261.2L482.5 260.0L477.5 256.2L473.8 253.8L471.2 252.5L469.4 251.9L468.1 249.4L465.6 245.0L463.1 240.0L461.2 235.0Z" fill="#41ab5d"/>
<path d="M441.9 240.6L447.5 237.5L453.1 235.0L455.0 233.8L456.9 234.4L455.0 237.5L451.9 241.2L448.8 244.4L446.9 245.6L443.1 248.1L441.9 245.6L442.5 243.1Z" fill="url(#h)" stroke="#c4c4c4" stroke-opacity="1"/>
<path d="M440.6 241.9L442.2 240.6L442.5 243.1L441.2 245.0Z" fill="#41ab5d"/>
<path d="M439.4 246.9L440.6 245.0L441.5 248.8L441.0 252.5L440.2 254.8L439.0 250.6Z" fill="#004529"/>
<path d="M440.6 254.4L441.2 250.0L441.5 248.5L443.1 248.1L446.9 245.6L448.8 244.8L449.4 247.2L446.2 249.8L443.1 252.5Z" fill="#41ab5d"/>
<path d="M448.8 244.4L451.9 241.2L455.0 237.5L456.9 234.4L461.2 235.0L463.1 240.0L465.6 245.0L468.1 249.4L469.4 251.9L466.9 253.8L466.2 255.6L462.5 254.4L458.1 251.9L453.8 248.8L449.4 247.2Z" fill="#d9f0a3"/>
<path d="M466.9 253.8L468.8 252.5L470.0 255.0L468.1 256.0Z" fill="#41ab5d"/>
<path d="M440.0 255.6L443.1 252.5L446.2 250.0L449.4 247.5L453.8 248.8L458.1 251.9L462.5 254.4L466.2 255.6L468.1 256.0L470.0 256.2L471.9 259.4L475.0 263.1L477.5 266.2L480.0 269.4L483.8 271.2L488.1 271.9L488.8 275.0L487.5 278.1L483.8 280.6L480.0 281.9L475.0 283.1L471.9 285.0L470.6 286.9L467.5 285.6L463.8 285.6L461.2 286.2L460.0 283.8L457.5 280.0L455.0 275.0L451.2 270.0L448.1 265.0L444.4 260.0L441.9 257.5Z" fill="#d9f0a3"/>
<path d="M476.5 263.5L477.8 263.1L478.1 265.6L476.9 266.2Z" fill="#d9f0a3"/>
<path d="M479.4 268.8L483.1 268.1L486.2 266.2L488.1 263.8L489.4 263.1L489.0 266.9L488.1 271.5L484.0 271.2L480.6 270.0Z" fill="#41ab5d"/>
<path d="M488.1 266.2L489.4 266.9L492.5 268.8L496.2 271.2L497.5 272.5L495.6 276.2L493.1 280.0L490.0 283.8L486.9 286.2L483.8 287.2L481.9 283.1L484.0 280.9L487.8 278.4L489.0 275.0L488.1 271.9L489.0 269.4Z" fill="#f7fcb9"/>
<path d="M461.2 286.5L463.8 285.9L467.5 285.9L470.6 287.1L472.2 285.2L475.0 283.4L480.0 282.1L481.9 283.1L483.5 286.9L480.0 290.0L475.0 292.5L470.0 295.0L465.0 296.9L461.9 297.5L461.0 293.8L460.6 290.0Z" fill="#d9f0a3"/>
<path d="M540.8 202.5L598.1 201.9L595.0 200.0L599.4 198.8L600.6 194.4L602.5 192.5L607.5 193.8L612.5 196.2L617.5 199.4L621.2 201.9L626.2 203.1L630.0 206.2L633.1 205.0L636.2 205.6L637.2 209.4L637.8 213.1L635.2 215.0L636.9 216.9L638.1 219.6L635.6 220.0L633.1 221.9L630.0 223.1L628.1 225.6L624.4 227.5L621.9 226.9L620.0 224.8L616.9 226.9L614.8 229.4L618.1 231.2L620.6 233.1L623.8 232.5L626.9 233.8L625.0 235.6L622.8 238.1L625.6 240.6L628.1 243.8L630.6 247.5L633.1 251.2L633.8 255.0L632.5 260.0L631.2 265.0L631.9 263.1L628.8 266.9L625.0 270.0L621.2 272.5L616.9 274.4L613.1 275.6L612.5 277.5L610.6 275.6L607.5 274.4L605.6 273.8L602.5 271.9L600.6 270.6L597.5 271.9L594.4 272.5L591.9 273.8L590.0 275.0L587.5 272.5L585.0 270.0L583.1 266.9L582.5 263.1L583.8 260.0L581.9 257.5L579.4 256.2L581.9 257.5L579.4 259.4L576.2 254.4L572.5 255.0L570.0 256.9L565.0 257.2L561.9 258.1L557.5 258.1L552.5 256.2L547.5 253.8L543.1 251.5L541.2 250.6L538.1 247.5L536.2 244.4L535.0 240.6L533.1 238.8L531.2 239.6L528.1 236.9L525.6 234.4L524.4 233.4L521.9 228.8L520.0 227.1L523.1 225.0L525.6 223.8L529.4 222.5L531.5 220.6L527.5 219.0L528.8 217.5L531.2 215.6L530.0 212.5L533.1 210.0L530.0 217.5L532.5 215.0L533.3 210.8L536.7 208.3L537.5 201.7Z" fill="#addd8e"/>
<path d="M540.8 202.5L545.8 200.0L551.7 199.7L557.5 198.3L559.2 196.3L565.0 198.3L571.7 200.0L578.3 201.7L585.0 202.0L591.7 201.3L596.0 200.3L590.0 201.0L595.0 200.2L598.1 201.9L598.8 205.0L602.5 206.0L607.5 208.1L603.8 210.0L600.0 211.9L596.2 213.1L595.6 216.9L592.5 219.4L590.0 220.0L590.0 220.0L583.8 221.2L577.5 219.4L571.2 218.8L565.0 218.1L560.0 215.0L555.0 213.1L550.0 211.9L549.4 210.0L550.0 210.8L545.0 206.7Z" fill="#f7fcb9"/>
<path d="M609.4 280.0L611.9 278.8L614.4 280.0L613.1 282.5L610.6 283.1Z" fill="#addd8e"/>
<path d="M633.5 266.2L635.6 264.4L636.9 266.9L636.2 270.6L635.0 273.1L633.8 270.0Z" fill="url(#h)" stroke="#c4c4c4" stroke-opacity="1"/>
<path d="M628.1 225.6L630.0 223.1L633.1 221.9L635.6 220.0L638.1 219.6L637.2 222.5L636.2 225.0L638.1 227.5L636.9 230.0L635.0 231.2L632.5 230.6L630.6 228.1Z" fill="#d9f0a3"/>
<path d="M635.2 231.9L637.2 230.2L640.0 231.9L642.5 235.0L643.8 238.1L642.5 240.0L640.0 240.6L638.1 239.4L636.9 236.2Z" fill="#78c679"/>
<path d="M655.6 213.1L658.8 214.4L662.5 215.6L666.2 216.2L665.0 218.8L662.5 219.8L660.6 221.2L658.5 220.6L656.9 218.1L656.0 215.6Z" fill="#238443"/>
<path d="M659.4 222.8L661.9 223.5L663.8 225.6L665.6 228.8L666.5 233.1L667.8 236.9L666.9 239.4L664.4 240.2L661.2 241.0L659.4 242.5L657.5 242.2L655.0 243.1L653.1 241.9L651.2 242.5L649.4 243.8L647.5 243.1L650.0 240.0L652.5 238.1L655.0 237.5L657.5 237.2L658.1 234.4L660.0 232.5L660.6 228.8L659.8 225.6Z" fill="#238443"/>
<path d="M647.2 243.8L649.4 244.4L651.2 245.6L652.2 248.1L651.0 249.8L649.4 247.8L647.8 246.0Z" fill="#238443"/>
<path d="M652.5 243.1L655.6 243.1L655.0 244.8L653.1 245.0Z" fill="#238443"/>
<path d="M525.6 241.2L528.8 240.6L531.2 239.6L533.1 238.8L535.0 240.6L536.2 244.4L538.1 247.5L541.2 250.6L540.6 253.1L542.5 255.6L548.8 258.8L555.0 261.2L559.4 261.9L561.2 260.0L560.6 258.1L565.0 257.2L568.1 258.1L570.0 256.9L572.5 255.0L576.2 254.4L578.1 256.9L579.4 259.4L577.5 262.5L576.2 266.2L575.0 269.0L572.8 272.5L572.5 275.6L571.0 272.5L569.4 269.4L567.5 268.1L565.0 268.8L563.8 272.5L560.6 274.4L557.5 278.1L555.0 281.9L553.1 285.0L552.5 282.5L547.5 288.8L545.5 296.2L543.8 303.8L542.0 309.5L539.5 307.5L536.2 300.0L532.5 291.2L529.5 283.8L531.2 285.0L528.8 280.0L526.9 275.0L523.1 275.6L520.0 272.5L519.0 270.0L522.5 267.1L521.2 264.6L518.8 261.5L519.4 259.6L522.5 256.5L524.4 252.8L526.9 249.6L527.5 246.5L525.0 244.0Z" fill="#addd8e"/>
<path d="M541.0 253.1L543.1 251.5L547.5 253.8L552.5 256.2L557.5 258.1L560.0 258.8L559.8 261.5L555.0 261.0L548.8 258.8L543.1 256.0Z" fill="#d9f0a3"/>
<path d="M561.9 258.1L565.0 257.2L568.1 258.5L567.2 260.6L563.8 261.0L561.5 260.2Z" fill="#addd8e"/>
<path d="M560.6 263.1L563.1 262.2L565.6 265.0L568.8 265.6L570.0 268.1L571.2 271.2L572.5 275.6L570.6 272.5L569.0 269.8L566.9 273.1L564.8 273.1L563.1 270.0L562.2 266.2Z" fill="#41ab5d"/>
<path d="M546.2 307.5L548.8 305.5L551.2 310.0L550.0 314.5L547.0 313.8Z" fill="#78c679"/>
<path d="M576.2 266.2L577.5 262.5L579.4 259.6L581.9 257.5L579.4 256.5L581.9 257.8L583.8 260.2L582.5 263.4L583.1 267.1L585.0 270.2L587.5 272.8L590.0 275.2L587.5 277.5L585.0 280.0L584.4 283.8L586.2 287.2L587.5 291.2L588.8 295.0L589.8 298.8L589.0 301.5L588.1 297.5L586.9 293.8L585.2 290.0L583.1 288.1L580.6 289.4L578.8 288.8L578.1 285.0L576.2 281.2L574.4 278.1L572.5 275.0L572.8 272.5L575.0 269.0Z" fill="#d9f0a3"/>
<path d="M585.0 280.0L587.5 277.8L590.0 278.8L591.9 281.2L593.1 284.4L595.6 285.0L598.8 286.2L601.9 288.8L603.8 291.9L602.5 293.8L599.4 294.4L597.5 296.2L596.9 298.1L594.4 297.5L593.1 295.6L591.9 298.1L591.2 300.6L590.6 303.1L591.9 306.2L593.1 309.4L595.0 311.9L596.9 314.4L595.0 315.0L593.1 312.5L590.6 310.0L588.8 307.5L589.0 303.1L589.8 299.0L588.8 295.2L587.5 291.5L586.2 287.2L584.4 284.0Z" fill="#d9f0a3"/>
<path d="M590.0 275.2L591.9 273.8L594.4 272.8L596.9 275.0L599.4 277.5L601.2 280.0L600.0 281.9L601.9 284.4L604.4 287.5L606.2 290.6L606.9 293.1L605.0 293.8L603.5 291.9L601.9 289.0L598.8 286.5L595.6 285.2L593.1 284.6L591.9 281.5L590.0 279.0Z" fill="url(#h)" stroke="#c4c4c4" stroke-opacity="1"/>
<path d="M594.4 272.5L597.5 271.9L600.6 270.6L602.5 272.1L605.6 274.0L604.4 276.2L602.2 278.1L602.8 280.6L605.0 283.1L607.5 286.2L610.0 289.4L612.2 292.5L613.1 296.2L613.1 300.0L611.2 302.5L608.8 304.4L606.2 306.2L604.4 307.5L603.5 305.0L605.6 303.1L607.5 301.2L606.9 298.1L607.2 293.8L606.5 290.9L604.6 287.8L602.1 284.6L600.2 282.1L601.5 280.2L599.6 277.8L597.1 275.2Z" fill="#f7fcb9"/>
<path d="M597.5 296.5L599.6 294.6L602.8 294.0L605.2 294.0L607.0 293.5L607.2 298.1L607.5 301.0L605.6 302.9L603.5 303.1L601.2 302.5L599.0 300.6L597.8 298.8Z" fill="url(#h)" stroke="#c4c4c4" stroke-opacity="1"/>
<path d="M593.8 315.6L595.6 314.8L598.1 315.6L600.0 318.8L601.2 322.5L602.5 325.6L602.8 327.5L600.6 326.5L598.1 324.4L595.6 320.6L594.4 318.1Z" fill="#addd8e"/>
<path d="M602.2 327.0L603.2 327.0L603.2 327.8L602.2 327.8Z" fill="#004529"/>
<path d="M582.2 316.9L585.0 316.2L588.1 318.1L591.9 321.9L595.6 326.2L598.8 330.0L597.5 330.0L605.0 337.5L607.5 345.0L606.2 347.0L600.0 341.2L593.8 333.8L592.5 330.0L590.0 326.9L586.2 322.5L583.5 319.4Z" fill="#d9f0a3"/>
<path d="M615.6 326.9L618.1 325.6L621.9 323.5L625.6 321.2L628.1 318.8L630.0 315.0L631.9 312.8L634.4 315.0L637.5 316.9L635.6 318.8L633.1 319.4L631.2 321.2L628.8 322.5L625.6 324.4L622.5 326.9L619.4 328.8L616.5 328.8Z" fill="#addd8e"/>
<path d="M616.5 328.8L619.4 328.8L622.5 327.1L625.6 324.6L628.8 322.8L631.2 321.5L633.1 319.6L635.0 322.5L634.4 326.2L635.6 330.0L634.5 330.0L631.2 336.2L628.8 340.5L623.8 340.0L618.8 338.0L615.5 333.8L615.0 328.8Z" fill="#d9f0a3"/>
<path d="M636.9 283.1L639.4 282.2L641.9 283.5L642.2 286.2L641.2 289.4L642.5 292.5L645.0 293.8L646.9 295.6L645.6 296.9L643.8 295.6L641.9 296.2L640.6 298.8L638.8 296.9L638.1 293.8L636.9 290.6L636.2 286.9Z" fill="#addd8e"/>
<path d="M642.5 300.6L645.0 300.0L646.2 302.5L648.1 301.2L650.0 298.8L651.2 301.2L650.0 304.4L648.1 303.8L646.2 306.9L644.8 305.6L643.8 303.1Z" fill="#addd8e"/>
<path d="M643.8 311.2L646.9 309.4L650.0 307.5L651.9 305.6L653.8 308.1L654.4 311.9L653.1 315.0L651.2 316.2L650.0 313.8L648.1 311.9L645.0 312.8Z" fill="#addd8e"/>
<path d="M632.2 308.8L635.0 305.0L637.5 301.5L638.1 302.5L635.6 306.2L633.1 309.4Z" fill="#addd8e"/>
<path d="M638.0 333.8L641.2 330.0L647.5 327.5L651.2 328.8L645.0 331.2L643.0 335.0L646.2 338.8L645.0 343.8L642.5 340.0L640.5 344.5L638.0 343.8L637.5 338.8Z" fill="#d9f0a3"/>
<path d="M614.2 420.0L617.5 415.8L619.2 411.7L616.7 406.7L617.5 400.0L619.2 393.3L620.8 389.2L626.7 385.8L633.3 383.3L638.3 380.8L642.5 375.8L646.7 370.8L650.8 368.3L655.0 366.7L659.2 367.5L661.7 364.2L665.8 360.8L670.8 362.0L676.7 362.5L674.2 366.7L672.5 369.2L675.8 371.7L680.0 375.0L683.3 376.7L685.8 373.3L686.7 367.5L688.3 362.5L690.0 359.2L691.7 363.3L693.3 368.3L695.0 373.3L695.8 379.2L699.2 383.3L701.7 388.3L705.0 394.2L705.8 400.0L705.0 405.8L702.5 411.7L698.3 416.7L694.2 421.7L690.0 425.8L686.7 429.2L682.5 430.0L678.3 431.7L675.0 432.5L671.7 431.7L668.3 430.0L665.8 426.7L665.0 422.5L664.2 420.0L661.7 421.7L659.2 420.8L657.5 417.5L654.2 414.2L649.2 413.3L643.3 414.2L637.5 415.8L631.7 418.3L626.7 420.0L621.7 421.7L617.5 422.5Z" fill="#00562f"/>
<path d="M669.2 437.5L672.5 436.7L676.7 437.0L675.0 440.8L671.7 443.3L668.3 444.2L668.0 440.8Z" fill="#00562f"/>
<path d="M738.8 421.2L740.5 420.5L741.2 426.2L746.2 428.0L745.0 431.2L741.2 433.8L737.5 437.5L733.8 439.5L732.5 437.0L736.2 433.8L738.0 428.8Z" fill="#00562f"/>
<path d="M706.2 450.0L712.5 446.2L720.0 442.0L726.2 437.5L730.0 437.0L728.8 440.0L722.5 444.5L716.2 448.0L710.0 451.2L707.0 452.0Z" fill="#00562f"/>
<path d="M607.5 346.2L615.0 347.0L622.5 349.5L628.8 352.0L627.5 353.8L620.0 352.0L612.5 350.0L607.5 348.8Z" fill="#d9f0a3"/>
<path d="M631.2 353.0L635.0 352.0L636.2 353.8L632.5 354.5Z" fill="#d9f0a3"/>
<path d="M638.0 352.5L645.0 351.2L644.5 353.2L638.8 354.2Z" fill="#d9f0a3"/>
<path d="M646.2 356.2L651.2 353.8L652.0 355.0L647.5 357.5Z" fill="#d9f0a3"/>
<path d="M651.2 353.0L655.0 352.0L655.5 353.2L652.0 354.2Z" fill="url(#h)" stroke="#c4c4c4" stroke-opacity="1"/>
<path d="M657.5 326.2L659.5 327.5L658.8 332.5L657.0 330.0Z" fill="#d9f0a3"/>
<path d="M655.0 338.8L662.5 338.0L663.0 339.5L655.5 340.0Z" fill="#d9f0a3"/>
<path d="M665.0 332.5L670.0 332.0L672.5 335.0L670.0 338.8L675.0 340.0L680.0 336.2L687.5 337.0L688.0 352.5L682.5 352.0L677.5 348.8L673.8 345.0L668.8 341.2L666.2 337.5Z" fill="#d9f0a3"/>
<path d="M687.5 337.0L695.0 339.5L700.0 343.8L702.5 347.5L705.0 352.5L708.8 357.0L707.0 358.0L701.2 355.0L695.0 352.0L688.0 352.5Z" fill="#d9f0a3"/>
<path d="M705.0 345.0L711.2 343.0L715.0 339.5L716.2 341.2L712.5 345.0L706.2 347.0Z" fill="#d9f0a3"/>
<path d="M766.2 376.2L773.8 373.0L773.0 375.0L767.5 378.0Z" fill="#d9f0a3"/>
<path d="M9.0 277.6L11.6 279.0L10.0 281.6L8.6 280.0Z" fill="#78c679"/>
<path d="M7.2 275.2L8.2 275.6L7.8 276.4Z" fill="#78c679"/>
<path d="M5.2 274.0L6.2 274.4L5.8 275.0Z" fill="#78c679"/>
<path d="M718.5 344.4L719.8 344.7L721.5 348.2L720.3 348.8L718.7 346.5Z" fill="#d9f0a3"/>
<path d="M722.6 348.2L724.7 349.3L724.4 350.0L722.6 349.1Z" fill="#d9f0a3"/>
<path d="M727.4 350.4L730.9 352.3L730.4 353.2L727.4 351.4Z" fill="#d9f0a3"/>
<path d="M731.8 352.6L733.5 353.5L734.1 355.6L732.8 355.3Z" fill="#d9f0a3"/>
<path d="M730.0 355.3L732.6 356.4L732.3 357.4L730.0 356.4Z" fill="#d9f0a3"/>
<path d="M733.5 357.4L735.6 358.5L735.3 359.5L733.5 358.5Z" fill="#d9f0a3"/>
<path d="M743.1 369.4L744.1 369.4L745.4 373.6L744.3 374.0Z" fill="url(#h)" stroke="#c4c4c4" stroke-opacity="1"/>
<path d="M734.4 383.5L735.5 382.8L740.2 388.5L739.2 389.4Z" fill="url(#h)" stroke="#c4c4c4" stroke-opacity="1"/>
<path d="M770.2 373.8L773.8 372.6L773.4 374.0L770.6 375.1Z" fill="#d9f0a3"/>
<path d="M341.8 250.0L339.2 253.8L334.2 258.5L330.5 261.9L327.4 267.5L324.9 273.1L324.2 276.9L326.1 281.2L325.5 286.2L323.6 291.2L324.2 295.0L324.9 297.5L327.4 301.2L331.1 304.0L334.2 307.5L338.0 311.9L341.8 315.0L344.9 318.1L346.1 318.8L350.5 317.8L355.5 316.5L358.0 318.2L361.1 317.1L364.2 314.6L367.0 315.0L369.9 314.6L374.9 315.2L376.1 318.4L379.2 319.6L383.0 318.4L385.5 315.2L388.0 312.8L386.2 312.5L383.8 315.0L382.5 318.8L384.4 324.4L383.5 328.8L383.1 333.1L385.0 336.9L388.1 340.6L390.6 343.5L391.2 346.2L392.5 352.5L393.1 358.8L391.9 365.0L390.6 370.0L389.8 375.0L390.0 375.8L391.3 380.8L394.2 388.3L396.7 396.7L399.2 404.2L400.0 405.3L401.7 412.5L402.5 418.3L405.8 421.7L411.7 420.0L418.3 418.3L424.2 415.8L430.0 410.8L434.2 405.8L436.7 400.8L435.8 398.0L439.2 395.8L442.5 393.3L443.3 390.0L442.5 384.2L446.7 379.2L451.7 374.2L455.8 370.0L456.7 364.2L455.8 358.3L454.8 359.4L455.0 357.5L453.5 352.5L452.5 347.5L453.1 343.4L456.2 338.8L458.1 335.2L460.0 336.2L465.0 330.0L470.0 323.8L476.0 315.0L477.5 312.5L480.5 303.8L480.0 299.5L470.0 302.5L463.0 302.5L459.8 300.0L458.8 297.5L455.6 293.8L452.5 290.0L450.0 285.2L449.4 283.1L446.9 277.5L445.2 273.1L442.5 267.5L440.0 262.5L438.5 257.5L437.5 258.1L434.4 253.5L437.5 256.9L440.2 254.8L439.0 250.6L435.6 249.0L430.0 248.5L425.0 250.0L418.1 248.8L408.8 245.6L400.0 249.4L395.0 245.0L387.5 246.2L385.0 242.5L386.2 238.8L384.5 233.8L380.0 235.5L373.8 235.0L366.2 236.2L358.8 238.8L351.2 238.8L346.2 243.8Z" fill="url(#h)" stroke="#c4c4c4" stroke-opacity="1"/>
<path d="M334.2 258.5L339.2 253.8L341.8 250.0L346.2 243.8L351.2 238.8L358.8 238.8L359.5 242.0L349.2 253.1L344.2 255.6L343.6 258.8Z" fill="#78c679"/>
<path d="M343.6 258.8L344.2 255.6L349.2 253.1L359.5 242.0L358.8 238.8L366.2 236.2L373.8 235.0L380.0 235.5L381.2 241.2L383.0 246.2L385.0 250.5L385.5 262.5L386.5 265.0L389.5 269.4L372.4 280.6L349.0 266.0L348.6 262.5Z" fill="#41ab5d"/>
<path d="M380.6 235.0L383.1 233.8L385.6 234.8L385.0 237.5L386.9 240.0L385.6 243.1L384.4 247.5L382.5 245.0L380.6 241.9L380.0 238.1Z" fill="#d9f0a3"/>
<path d="M349.0 266.0L372.4 280.6L372.4 287.5L370.5 289.4L366.1 291.2L361.8 291.2L358.0 293.1L354.2 296.2L351.8 300.0L349.9 303.1L347.4 303.8L344.9 303.1L343.6 299.4L339.9 298.8L336.8 298.1L336.1 292.5L338.6 291.0L349.9 290.6Z" fill="#00562f"/>
<path d="M323.6 291.9L325.5 288.8L329.2 287.5L332.4 288.8L334.9 291.9L336.1 294.4L336.5 298.1L333.0 298.1L330.5 297.5L327.4 296.9L324.9 297.2L324.2 295.0Z" fill="#41ab5d"/>
<path d="M325.2 298.1L328.6 297.5L331.1 298.4L329.9 300.6L327.4 301.2Z" fill="#78c679"/>
<path d="M344.9 303.8L347.4 304.0L350.2 303.5L351.8 305.0L355.5 305.0L356.1 312.5L355.5 316.5L350.5 317.8L346.1 318.8L344.9 315.0L344.2 308.8Z" fill="#addd8e"/>
<path d="M351.8 300.0L354.2 296.5L358.0 293.4L361.1 291.9L363.6 293.8L366.1 297.5L368.0 299.4L365.5 301.2L362.4 301.0L358.0 301.5L355.5 302.5L355.2 304.8L352.0 304.8L350.8 302.8Z" fill="#78c679"/>
<path d="M356.1 302.5L362.4 301.9L363.2 305.0L363.6 310.0L364.2 314.6L361.1 317.1L358.0 318.2L356.1 316.2L356.1 312.5L355.8 305.0Z" fill="#f7fcb9"/>
<path d="M363.6 302.5L365.2 302.5L366.1 308.8L366.5 314.9L364.5 314.8L364.0 310.0Z" fill="#ffffff" stroke="#c4c4c4" stroke-opacity="1"/>
<path d="M366.1 301.9L368.0 299.4L370.5 300.0L371.1 303.8L369.9 307.5L369.5 314.6L367.0 315.0L366.8 308.8L365.8 303.8Z" fill="#41ab5d"/>
<path d="M372.4 280.6L389.5 269.4L396.8 271.9L398.0 278.8L398.0 286.2L396.1 291.2L394.9 295.6L390.5 296.2L385.5 295.6L380.5 296.5L376.8 295.6L373.6 295.0L371.8 298.1L370.5 300.0L368.0 299.1L366.1 297.2L364.0 293.8L366.1 291.5L370.5 289.6L372.4 287.5Z" fill="#addd8e"/>
<path d="M371.8 298.5L373.6 295.2L376.8 295.9L380.5 296.8L385.5 295.9L390.5 296.5L394.9 295.9L396.1 298.1L395.2 301.2L393.0 305.0L390.5 308.8L388.0 312.8L385.5 315.2L383.0 318.4L379.2 319.6L376.1 318.4L374.9 315.2L369.9 314.6L370.2 307.5L371.5 303.8Z" fill="#f7fcb9"/>
<path d="M418.1 248.8L425.0 250.0L430.0 248.5L435.6 249.0L439.0 250.6L440.2 254.8L437.5 256.9L434.4 253.5L437.5 258.1L438.5 257.5L440.0 262.5L442.5 267.5L445.2 273.1L419.4 273.1L418.8 260.0Z" fill="#78c679"/>
<path d="M419.4 273.4L445.2 273.4L446.9 277.5L449.4 283.1L450.0 285.0L448.1 287.5L446.9 291.2L445.0 296.2L443.1 300.0L441.2 303.1L440.0 299.4L437.5 300.0L436.2 303.1L433.8 304.4L430.0 306.2L426.2 305.0L422.5 304.4L420.6 306.9L418.8 307.5L417.5 303.8L415.0 300.0L413.8 296.2L415.0 292.5L416.9 288.8L416.9 278.8L419.4 278.1Z" fill="#78c679"/>
<path d="M441.2 303.1L443.1 300.0L445.0 296.2L446.9 293.1L450.6 292.5L454.4 294.4L457.5 297.5L460.0 300.0L459.8 302.5L462.5 306.2L465.0 308.8L466.2 307.5L472.5 310.0L468.8 314.4L464.4 317.5L459.4 320.0L456.2 320.9L451.2 321.5L446.2 319.6L443.1 316.2L441.2 313.1L439.4 310.0L441.9 305.0Z" fill="#41ab5d"/>
<path d="M442.5 320.6L446.2 319.4L451.2 321.2L456.2 320.6L457.5 320.0L458.1 325.0L457.5 331.2L458.1 335.0L456.2 338.8L453.1 343.1L448.8 338.8L445.0 335.6L441.9 333.5L442.2 330.0L443.5 325.6Z" fill="#f7fcb9"/>
<path d="M433.8 321.5L437.5 321.0L441.9 320.6L443.1 325.6L441.9 330.0L441.5 333.1L437.5 333.5L432.5 333.1L431.9 329.4L432.5 325.0Z" fill="#d9f0a3"/>
<path d="M430.6 335.6L432.5 334.4L434.0 336.2L433.1 338.1L431.0 338.1Z" fill="#d9f0a3"/>
<path d="M431.0 338.5L433.1 338.5L433.1 341.2L431.5 341.9Z" fill="#ffffff" stroke="#c4c4c4" stroke-opacity="1"/>
<path d="M432.5 333.5L437.5 333.8L441.9 333.8L445.0 335.9L448.8 339.0L453.1 343.4L452.5 347.5L453.5 352.5L455.0 357.5L454.8 359.4L450.0 360.6L445.0 361.2L440.6 358.8L438.8 356.2L436.2 354.4L433.1 353.1L431.9 350.0L430.6 345.6L431.2 341.9L433.1 341.2L433.5 337.5Z" fill="#f7fcb9"/>
<path d="M390.6 343.5L395.0 341.2L399.4 337.5L403.1 332.5L404.4 326.2L406.2 320.6L411.2 318.5L416.2 318.8L422.5 318.1L428.8 319.4L433.8 321.2L432.5 325.0L431.9 329.4L431.2 333.1L430.6 337.5L431.2 341.2L430.6 345.6L431.9 350.0L433.1 353.1L430.0 353.8L428.8 357.5L429.4 362.5L430.6 365.0L428.8 365.6L425.6 361.9L421.9 361.2L417.5 360.0L413.8 359.4L413.1 352.5L411.9 349.4L408.8 348.8L406.2 350.6L403.1 351.2L400.6 346.9L396.9 346.2L391.9 346.5Z" fill="#f7fcb9"/>
<path d="M391.2 346.5L396.9 346.2L400.6 346.9L403.1 351.2L406.2 350.6L408.8 348.8L411.9 349.4L413.1 352.5L413.8 359.4L417.5 360.0L417.2 363.8L413.8 364.4L413.5 370.0L414.0 375.0L414.7 374.2L410.0 376.3L403.3 376.7L396.7 376.3L390.0 375.8L389.8 375.0L390.6 370.0L391.9 365.0L393.1 358.8L392.5 352.5Z" fill="#f7fcb9"/>
<path d="M388.5 341.0L390.2 340.2L390.6 343.1L389.4 342.8Z" fill="#f7fcb9"/>
<path d="M413.8 364.4L417.2 363.8L417.5 360.2L421.9 361.5L425.6 362.1L428.8 365.9L430.6 365.0L429.4 362.5L428.8 357.5L430.0 354.0L433.1 353.1L436.2 354.4L438.8 356.2L438.5 361.2L437.5 365.0L435.0 368.1L431.2 370.0L428.8 371.9L425.6 375.0L422.5 376.3L418.3 375.8L414.7 374.2L414.0 375.0L413.5 370.0Z" fill="#ffffe5"/>
<path d="M438.7 361.7L443.3 360.8L450.0 360.0L455.8 358.3L456.7 364.2L455.8 370.0L451.7 374.2L446.7 379.2L442.5 384.2L443.3 390.0L442.5 393.3L439.2 395.8L435.8 397.5L434.2 396.7L434.2 389.2L436.7 383.3L437.5 377.5L436.7 373.3L433.3 371.7L435.8 367.5L439.2 368.3L441.7 370.8L442.5 374.2L444.2 371.7L443.3 367.5L440.8 365.0Z" fill="#d9f0a3"/>
<path d="M438.7 356.7L440.8 358.3L441.3 364.2L443.3 367.5L444.2 371.7L442.5 374.2L441.7 370.8L440.0 367.5L438.7 364.2L438.3 360.0Z" fill="#d9f0a3"/>
<path d="M423.0 376.7L427.0 375.0L430.0 372.5L433.3 371.7L436.7 373.3L437.5 377.5L436.7 383.3L434.2 388.3L430.0 388.3L427.5 387.5L423.3 382.5L421.3 379.2Z" fill="#d9f0a3"/>
<path d="M400.0 405.3L403.3 405.8L407.5 404.7L408.7 395.8L410.0 400.3L413.0 398.0L417.0 398.0L420.3 395.3L423.7 391.3L427.5 388.0L430.3 388.7L434.2 389.2L434.2 396.7L435.8 398.0L436.7 400.8L434.2 405.8L430.0 410.8L424.2 415.8L418.3 418.3L411.7 420.0L405.8 421.7L402.5 418.3L401.7 412.5Z" fill="#d9f0a3"/>
<path d="M423.3 407.5L425.8 405.8L428.0 407.5L425.8 410.0Z" fill="url(#h)" stroke="#c4c4c4" stroke-opacity="1"/>
<path d="M432.0 398.7L434.2 398.0L434.7 400.8L432.5 401.3Z" fill="url(#h)" stroke="#c4c4c4" stroke-opacity="1"/>
<path d="M475.3 362.0L477.5 365.0L478.0 370.0L476.7 375.8L474.7 382.5L472.0 390.0L470.0 395.0L465.8 397.5L462.0 395.8L460.8 390.8L462.0 385.8L464.2 380.8L464.2 374.2L467.5 372.5L471.3 368.3L473.3 365.0Z" fill="#addd8e"/>
<path d="M324.2 275.6L334.2 275.0L334.9 266.2L338.0 265.6L338.0 261.9L343.6 258.8" fill="none" stroke="#c4c4c4" stroke-opacity="1"/>
<path d="M398.0 270.6L418.6 278.5" fill="none" stroke="#c4c4c4" stroke-opacity="1"/>
<path d="M418.6 273.8L418.6 278.5L416.8 287.5" fill="none" stroke="#c4c4c4" stroke-opacity="1"/>
<path d="M396.1 298.1L398.0 303.8L400.5 307.5L400.5 312.5L401.8 317.5" fill="none" stroke="#c4c4c4" stroke-opacity="1"/>
<path d="M400.5 307.5L405.5 306.9L409.2 305.0L413.0 300.0" fill="none" stroke="#c4c4c4" stroke-opacity="1"/>
<path d="M386.2 324.4L395.0 323.8L396.9 318.8L395.6 313.8L396.9 307.5" fill="none" stroke="#c4c4c4" stroke-opacity="1"/>
<path d="M395.6 313.8L402.5 310.6L407.5 307.5L412.5 311.9L417.5 310.6L425.0 316.2L428.8 319.4" fill="none" stroke="#c4c4c4" stroke-opacity="1"/>
<path d="M384.4 324.4L388.8 325.0L392.5 330.0L396.9 331.2L399.4 337.5" fill="none" stroke="#c4c4c4" stroke-opacity="1"/>
<path d="M418.1 307.5L425.0 316.2" fill="none" stroke="#c4c4c4" stroke-opacity="1"/>
<path d="M329.9 300.6L336.8 305.0L339.9 308.8L338.0 311.9" fill="none" stroke="#c4c4c4" stroke-opacity="1"/>
<path d="M339.9 308.8L344.2 308.8" fill="none" stroke="#c4c4c4" stroke-opacity="1"/>
<path d="M410.8 379.2L410.0 386.7L408.7 395.0" fill="none" stroke="#c4c4c4" stroke-opacity="1"/>
</g></g>
<g>
<rect x="98.5" y="536.5" width="48.5" height="12" fill="url(#h)" stroke="#b8b8b8" stroke-width="1"/>
<line x1="122.7" y1="534" x2="122.7" y2="536.5" stroke="#b8b8b8" stroke-width="1"/>
<rect x="166.0" y="536.5" width="58.5" height="12" fill="#ffffe5"/>
<rect x="224.5" y="536.5" width="58.5" height="12" fill="#f7fcb9"/>
<rect x="283.0" y="536.5" width="58.5" height="12" fill="#d9f0a3"/>
<rect x="341.5" y="536.5" width="58.5" height="12" fill="#addd8e"/>
<rect x="400.0" y="536.5" width="58.5" height="12" fill="#78c679"/>
<rect x="458.5" y="536.5" width="58.5" height="12" fill="#41ab5d"/>
<rect x="517.0" y="536.5" width="58.5" height="12" fill="#238443"/>
<rect x="575.5" y="536.5" width="58.5" height="12" fill="#006837"/>
<rect x="634.0" y="536.5" width="58.5" height="12" fill="#00562f"/>
<rect x="692.5" y="536.5" width="58.5" height="12" fill="#004529"/>
<rect x="166" y="536.5" width="585" height="12" fill="none" stroke="#000" stroke-opacity="0.22" stroke-width="0.8"/>
<line x1="166.0" y1="534" x2="166.0" y2="548.5" stroke="#000" stroke-opacity="0.38" stroke-width="0.8"/>
<line x1="224.5" y1="534" x2="224.5" y2="548.5" stroke="#000" stroke-opacity="0.38" stroke-width="0.8"/>
<line x1="283.0" y1="534" x2="283.0" y2="548.5" stroke="#000" stroke-opacity="0.38" stroke-width="0.8"/>
<line x1="341.5" y1="534" x2="341.5" y2="548.5" stroke="#000" stroke-opacity="0.38" stroke-width="0.8"/>
<line x1="400.0" y1="534" x2="400.0" y2="548.5" stroke="#000" stroke-opacity="0.38" stroke-width="0.8"/>
<line x1="458.5" y1="534" x2="458.5" y2="548.5" stroke="#000" stroke-opacity="0.38" stroke-width="0.8"/>
<line x1="517.0" y1="534" x2="517.0" y2="548.5" stroke="#000" stroke-opacity="0.38" stroke-width="0.8"/>
<line x1="575.5" y1="534" x2="575.5" y2="548.5" stroke="#000" stroke-opacity="0.38" stroke-width="0.8"/>
<line x1="634.0" y1="534" x2="634.0" y2="548.5" stroke="#000" stroke-opacity="0.38" stroke-width="0.8"/>
<line x1="692.5" y1="534" x2="692.5" y2="548.5" stroke="#000" stroke-opacity="0.38" stroke-width="0.8"/>
<line x1="751.0" y1="534" x2="751.0" y2="548.5" stroke="#000" stroke-opacity="0.38" stroke-width="0.8"/>
</g></svg>
<div class="abs lg" style="left:122.5px">No data</div>
<div class="abs lg" style="left:166px">0%</div>
<div class="abs lg" style="left:224.5px">10%</div>
<div class="abs lg" style="left:283px">20%</div>
<div class="abs lg" style="left:341.5px">30%</div>
<div class="abs lg" style="left:400px">40%</div>
<div class="abs lg" style="left:458.5px">50%</div>
<div class="abs lg" style="left:517px">60%</div>
<div class="abs lg" style="left:575.5px">70%</div>
<div class="abs lg" style="left:634px">80%</div>
<div class="abs lg" style="left:692.5px">90%</div>
<div class="abs lg" style="left:751px">100%</div>
<div id="src" class="abs"><b style="font-size:12.4px;letter-spacing:-0.3px">Data source:</b> United Nations (2023)</div>
<div id="url" class="abs">OurWorldinData.org/urbanization | CC BY</div>
</body></html>
